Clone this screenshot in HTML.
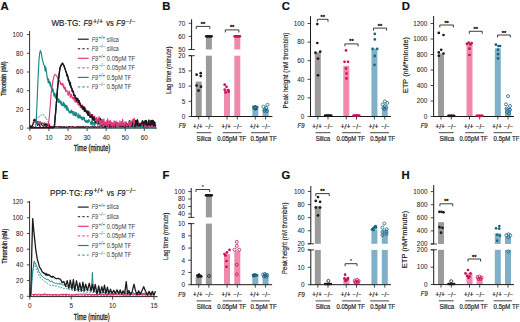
<!DOCTYPE html>
<html><head><meta charset="utf-8"><style>
html,body{margin:0;padding:0;background:#fff;width:520px;height:322px;overflow:hidden}
svg{display:block}
text{font-family:"Liberation Sans", sans-serif}
</style></head><body>
<svg width="520" height="322" viewBox="0 0 520 322" font-family='"Liberation Sans", sans-serif'><text x="0.60" y="9.90" font-size="11.3" fill="#111" stroke="#111" stroke-width="0.2" font-weight="bold">A</text>
<text x="162.20" y="10.10" font-size="11.3" fill="#111" stroke="#111" stroke-width="0.2" font-weight="bold">B</text>
<text x="281.80" y="10.10" font-size="11.3" fill="#111" stroke="#111" stroke-width="0.2" font-weight="bold">C</text>
<text x="401.80" y="10.30" font-size="11.3" fill="#111" stroke="#111" stroke-width="0.2" font-weight="bold">D</text>
<text x="1.90" y="178.90" font-size="11.3" fill="#111" stroke="#111" stroke-width="0.2" textLength="6.3" lengthAdjust="spacingAndGlyphs" font-weight="bold">E</text>
<text x="162.60" y="178.80" font-size="11.3" fill="#111" stroke="#111" stroke-width="0.2" font-weight="bold">F</text>
<text x="281.60" y="179.40" font-size="11.3" fill="#111" stroke="#111" stroke-width="0.2" font-weight="bold">G</text>
<text x="401.60" y="179.40" font-size="11.3" fill="#111" stroke="#111" stroke-width="0.2" font-weight="bold">H</text>
<line x1="29.60" y1="31.00" x2="29.60" y2="128.50" stroke="#1a1a1a" stroke-width="0.9"/>
<line x1="29.20" y1="128.10" x2="157.00" y2="128.10" stroke="#1a1a1a" stroke-width="0.9"/>
<line x1="26.90" y1="128.10" x2="29.60" y2="128.10" stroke="#1a1a1a" stroke-width="0.8"/>
<text x="23.20" y="130.40" font-size="6.4" fill="#2a2a2a" stroke="#2a2a2a" stroke-width="0.06" text-anchor="end">0</text>
<line x1="26.90" y1="109.40" x2="29.60" y2="109.40" stroke="#1a1a1a" stroke-width="0.8"/>
<text x="23.20" y="111.70" font-size="6.4" fill="#2a2a2a" stroke="#2a2a2a" stroke-width="0.06" text-anchor="end">20</text>
<line x1="26.90" y1="90.70" x2="29.60" y2="90.70" stroke="#1a1a1a" stroke-width="0.8"/>
<text x="23.20" y="93.00" font-size="6.4" fill="#2a2a2a" stroke="#2a2a2a" stroke-width="0.06" text-anchor="end">40</text>
<line x1="26.90" y1="72.00" x2="29.60" y2="72.00" stroke="#1a1a1a" stroke-width="0.8"/>
<text x="23.20" y="74.30" font-size="6.4" fill="#2a2a2a" stroke="#2a2a2a" stroke-width="0.06" text-anchor="end">60</text>
<line x1="26.90" y1="53.30" x2="29.60" y2="53.30" stroke="#1a1a1a" stroke-width="0.8"/>
<text x="23.20" y="55.60" font-size="6.4" fill="#2a2a2a" stroke="#2a2a2a" stroke-width="0.06" text-anchor="end">80</text>
<line x1="26.90" y1="34.60" x2="29.60" y2="34.60" stroke="#1a1a1a" stroke-width="0.8"/>
<text x="23.20" y="36.90" font-size="6.4" fill="#2a2a2a" stroke="#2a2a2a" stroke-width="0.06" text-anchor="end">100</text>
<line x1="29.90" y1="128.10" x2="29.90" y2="131.10" stroke="#1a1a1a" stroke-width="0.8"/>
<text x="29.90" y="139.80" font-size="6.4" fill="#2a2a2a" stroke="#2a2a2a" stroke-width="0.06" text-anchor="middle">0</text>
<line x1="48.97" y1="128.10" x2="48.97" y2="131.10" stroke="#1a1a1a" stroke-width="0.8"/>
<text x="48.97" y="139.80" font-size="6.4" fill="#2a2a2a" stroke="#2a2a2a" stroke-width="0.06" text-anchor="middle">10</text>
<line x1="68.04" y1="128.10" x2="68.04" y2="131.10" stroke="#1a1a1a" stroke-width="0.8"/>
<text x="68.04" y="139.80" font-size="6.4" fill="#2a2a2a" stroke="#2a2a2a" stroke-width="0.06" text-anchor="middle">20</text>
<line x1="87.11" y1="128.10" x2="87.11" y2="131.10" stroke="#1a1a1a" stroke-width="0.8"/>
<text x="87.11" y="139.80" font-size="6.4" fill="#2a2a2a" stroke="#2a2a2a" stroke-width="0.06" text-anchor="middle">30</text>
<line x1="106.18" y1="128.10" x2="106.18" y2="131.10" stroke="#1a1a1a" stroke-width="0.8"/>
<text x="106.18" y="139.80" font-size="6.4" fill="#2a2a2a" stroke="#2a2a2a" stroke-width="0.06" text-anchor="middle">40</text>
<line x1="125.25" y1="128.10" x2="125.25" y2="131.10" stroke="#1a1a1a" stroke-width="0.8"/>
<text x="125.25" y="139.80" font-size="6.4" fill="#2a2a2a" stroke="#2a2a2a" stroke-width="0.06" text-anchor="middle">50</text>
<line x1="144.32" y1="128.10" x2="144.32" y2="131.10" stroke="#1a1a1a" stroke-width="0.8"/>
<text x="144.32" y="139.80" font-size="6.4" fill="#2a2a2a" stroke="#2a2a2a" stroke-width="0.06" text-anchor="middle">60</text>
<text x="73.80" y="151.10" font-size="8.2" fill="#1c1c1c" stroke="#1c1c1c" stroke-width="0.3" textLength="36.4" lengthAdjust="spacingAndGlyphs">Time (minute)</text>
<text x="6.50" y="95.70" font-size="7.4" fill="#1c1c1c" stroke="#1c1c1c" stroke-width="0.3" textLength="34.1" lengthAdjust="spacingAndGlyphs" transform="rotate(-90 6.50 95.70)">Thrombin (nM)</text>
<text x="51.40" y="26.10" font-size="8.8" fill="#222" stroke="#222" stroke-width="0.18" textLength="29.199999999999996" lengthAdjust="spacingAndGlyphs">WB·TG:</text>
<text x="83.40" y="26.10" font-size="8.8" fill="#222" stroke="#222" stroke-width="0.18" textLength="8.799999999999997" lengthAdjust="spacingAndGlyphs" font-style="italic">F9</text>
<text x="92.90" y="23.60" font-size="6.6" fill="#222" stroke="#222" stroke-width="0.18" textLength="10.199999999999989" lengthAdjust="spacingAndGlyphs">+/+</text>
<text x="106.20" y="26.10" font-size="8.8" fill="#222" stroke="#222" stroke-width="0.18" textLength="7.3999999999999915" lengthAdjust="spacingAndGlyphs">vs</text>
<text x="116.30" y="26.10" font-size="8.8" fill="#222" stroke="#222" stroke-width="0.18" textLength="8.799999999999997" lengthAdjust="spacingAndGlyphs" font-style="italic">F9</text>
<text x="125.40" y="23.60" font-size="6.6" fill="#222" stroke="#222" stroke-width="0.18" textLength="10.099999999999994" lengthAdjust="spacingAndGlyphs">−/−</text>
<line x1="77.80" y1="39.20" x2="88.70" y2="39.20" stroke="#1a1a1a" stroke-width="1.2"/>
<text x="91.80" y="41.50" font-size="6.4" fill="#3a3a3a" stroke="#3a3a3a" stroke-width="0.02" textLength="6.3" lengthAdjust="spacingAndGlyphs" font-style="italic">F9</text>
<text x="98.60" y="38.70" font-size="5.2" fill="#3a3a3a" textLength="6.7" lengthAdjust="spacingAndGlyphs">+/+</text>
<text x="106.80" y="41.50" font-size="6.4" fill="#3a3a3a" stroke="#3a3a3a" stroke-width="0.02" textLength="12.1" lengthAdjust="spacingAndGlyphs">silica</text>
<line x1="77.80" y1="48.75" x2="88.70" y2="48.75" stroke="#1a1a1a" stroke-width="1.0" stroke-dasharray="2.4 2.1"/>
<text x="91.80" y="51.05" font-size="6.4" fill="#3a3a3a" stroke="#3a3a3a" stroke-width="0.02" textLength="6.3" lengthAdjust="spacingAndGlyphs" font-style="italic">F9</text>
<text x="98.60" y="48.25" font-size="5.2" fill="#3a3a3a" textLength="6.7" lengthAdjust="spacingAndGlyphs">−/−</text>
<text x="106.80" y="51.05" font-size="6.4" fill="#3a3a3a" stroke="#3a3a3a" stroke-width="0.02" textLength="12.1" lengthAdjust="spacingAndGlyphs">silica</text>
<line x1="77.80" y1="58.30" x2="88.70" y2="58.30" stroke="#e2387e" stroke-width="1.2"/>
<text x="91.80" y="60.60" font-size="6.4" fill="#3a3a3a" stroke="#3a3a3a" stroke-width="0.02" textLength="6.3" lengthAdjust="spacingAndGlyphs" font-style="italic">F9</text>
<text x="98.60" y="57.80" font-size="5.2" fill="#3a3a3a" textLength="6.7" lengthAdjust="spacingAndGlyphs">+/+</text>
<text x="106.80" y="60.60" font-size="6.4" fill="#3a3a3a" stroke="#3a3a3a" stroke-width="0.02" textLength="28.4" lengthAdjust="spacingAndGlyphs">0.05pM TF</text>
<line x1="77.80" y1="67.85" x2="88.70" y2="67.85" stroke="#e2387e" stroke-width="1.0" stroke-dasharray="2.4 2.1"/>
<text x="91.80" y="70.15" font-size="6.4" fill="#3a3a3a" stroke="#3a3a3a" stroke-width="0.02" textLength="6.3" lengthAdjust="spacingAndGlyphs" font-style="italic">F9</text>
<text x="98.60" y="67.35" font-size="5.2" fill="#3a3a3a" textLength="6.7" lengthAdjust="spacingAndGlyphs">−/−</text>
<text x="106.80" y="70.15" font-size="6.4" fill="#3a3a3a" stroke="#3a3a3a" stroke-width="0.02" textLength="28.4" lengthAdjust="spacingAndGlyphs">0.05pM TF</text>
<line x1="77.80" y1="77.40" x2="88.70" y2="77.40" stroke="#178888" stroke-width="1.2"/>
<text x="91.80" y="79.70" font-size="6.4" fill="#3a3a3a" stroke="#3a3a3a" stroke-width="0.02" textLength="6.3" lengthAdjust="spacingAndGlyphs" font-style="italic">F9</text>
<text x="98.60" y="76.90" font-size="5.2" fill="#3a3a3a" textLength="6.7" lengthAdjust="spacingAndGlyphs">+/+</text>
<text x="106.80" y="79.70" font-size="6.4" fill="#3a3a3a" stroke="#3a3a3a" stroke-width="0.02" textLength="24.5" lengthAdjust="spacingAndGlyphs">0.5pM TF</text>
<line x1="77.80" y1="86.95" x2="88.70" y2="86.95" stroke="#178888" stroke-width="1.0" stroke-dasharray="2.4 2.1"/>
<text x="91.80" y="89.25" font-size="6.4" fill="#3a3a3a" stroke="#3a3a3a" stroke-width="0.02" textLength="6.3" lengthAdjust="spacingAndGlyphs" font-style="italic">F9</text>
<text x="98.60" y="86.45" font-size="5.2" fill="#3a3a3a" textLength="6.7" lengthAdjust="spacingAndGlyphs">−/−</text>
<text x="106.80" y="89.25" font-size="6.4" fill="#3a3a3a" stroke="#3a3a3a" stroke-width="0.02" textLength="24.5" lengthAdjust="spacingAndGlyphs">0.5pM TF</text>
<path d="M29.90 128.13 L30.47 127.53 L31.04 127.48 L31.62 127.51 L32.19 127.65 L32.76 127.00 L33.33 126.88 L33.90 123.88 L34.48 120.62 L35.05 120.17 L35.62 119.68 L36.00 118.87 L36.19 118.53 L36.77 118.58 L37.34 117.47 L37.91 117.56 L38.48 117.13 L39.05 116.89 L39.63 115.57 L40.20 115.39 L40.39 115.13 L40.77 115.15 L41.34 115.36 L41.91 114.75 L42.49 114.26 L43.06 115.03 L43.63 114.65 L44.20 115.60 L44.77 116.61 L45.35 116.79 L45.73 117.98 L45.92 117.56 L46.49 119.00 L47.06 119.91 L47.44 120.77 L47.64 120.93 L48.21 122.08 L48.78 123.10 L48.97 122.62 L49.35 124.26 L49.92 125.33 L50.50 127.44 L51.07 126.93 L51.64 127.20 L51.83 127.39 L52.21 127.39 L52.78 127.56 L53.36 127.42 L53.93 127.99 L54.50 127.65 L55.07 127.33 L55.64 127.91 L56.22 127.24 L56.79 127.27 L57.36 127.72 L57.93 127.76 L58.50 127.68 L59.08 127.74 L59.65 127.17 L60.22 127.74 L60.79 128.07 L61.37 128.01 L61.94 127.43 L62.51 127.17 L63.08 127.64 L63.65 127.64 L64.23 127.59 L64.80 127.40 L65.37 127.89 L65.94 127.53 L66.51 127.58 L67.09 127.52 L67.66 127.93 L68.23 127.94 L68.80 127.77 L69.37 127.23 L69.95 127.78 L70.52 127.54 L71.09 127.81 L71.66 128.00 L72.24 128.04 L72.81 127.34 L73.38 127.37 L73.95 127.75 L74.52 127.46 L75.10 127.47 L75.67 127.26 L76.24 127.20 L76.81 127.72 L77.38 127.18 L77.96 127.20 L78.53 127.55 L79.10 127.27 L79.67 127.64 L80.24 127.75 L80.82 127.87 L81.39 127.28 L81.96 127.95 L82.53 128.04 L83.11 127.35 L83.68 127.38 L84.25 127.65 L84.82 127.32 L85.39 128.05 L85.97 127.86 L86.54 127.83 L87.11 127.71 L87.68 127.94 L88.25 128.04 L88.83 127.78 L89.40 127.26 L89.97 127.18 L90.54 127.40 L91.11 127.65 L91.69 127.86 L92.26 127.20 L92.83 127.61 L93.40 127.42 L93.98 128.07 L94.55 127.90 L95.12 127.32 L95.69 127.36 L96.26 127.28 L96.84 127.54 L97.41 127.70 L97.98 127.56 L98.55 127.31 L99.12 127.81 L99.70 127.60 L100.27 127.84 L100.84 127.38 L101.41 128.09 L101.98 127.46 L102.56 127.21 L103.13 128.08 L103.70 127.54 L104.27 127.50 L104.85 127.30 L105.42 127.55 L105.99 127.86 L106.56 127.72 L107.13 127.20 L107.71 127.25 L108.28 127.98 L108.85 128.01 L109.42 128.01 L109.99 128.08 L110.57 127.68 L111.14 127.97 L111.71 127.29 L112.28 127.49 L112.85 127.98 L113.43 127.60 L114.00 127.80 L114.57 127.64 L115.14 127.89 L115.72 127.94 L116.29 127.93 L116.86 127.75 L117.43 127.44 L118.00 127.59 L118.58 128.06 L119.15 127.44 L119.72 127.28 L120.29 127.38 L120.86 127.36 L121.44 128.09 L122.01 127.67 L122.58 128.04 L123.15 127.39 L123.72 127.94 L124.30 127.43 L124.87 127.86 L125.44 127.45 L126.01 127.81 L126.58 128.06 L127.16 127.74 L127.73 127.81 L128.30 127.26 L128.87 127.82 L129.45 127.63 L130.02 127.59 L130.59 127.21 L131.16 128.01 L131.73 127.54 L132.31 127.62 L132.88 127.41 L133.45 127.20 L134.02 127.81 L134.59 127.45 L135.17 127.61 L135.74 127.58 L136.31 128.04 L136.88 127.34 L137.45 127.19 L138.03 127.77 L138.60 127.80 L139.17 127.17 L139.74 128.00 L140.32 128.03 L140.89 128.03 L141.46 127.34 L142.03 127.39 L142.60 127.68 L143.18 127.52 L143.75 128.08 L144.32 127.50 L144.89 127.69 L145.46 127.62 L146.04 127.74 L146.61 127.72 L147.18 127.89 L147.75 128.05 L148.32 127.69 L148.90 127.87 L149.47 127.44 L150.04 127.34 L150.61 127.42 L151.19 127.67 L151.76 127.88 L152.33 127.74 L152.90 127.64 L153.47 127.51 L154.05 127.20 L154.62 128.02 L155.19 127.65 L155.76 127.64" fill="none" stroke="#178888" stroke-width="0.8" stroke-linejoin="round" stroke-dasharray="2 1.2" opacity="1"/>
<path d="M29.90 126.11 L30.19 127.82 L30.47 127.82 L30.76 125.40 L31.04 127.82 L31.33 127.82 L31.62 126.15 L31.90 127.11 L32.19 124.90 L32.38 127.23 L32.47 124.12 L32.76 125.35 L33.05 123.12 L33.33 120.72 L33.52 120.86 L33.62 119.85 L33.90 120.31 L34.19 122.43 L34.48 118.96 L34.67 119.82 L34.76 120.96 L35.05 121.71 L35.33 119.55 L35.62 120.84 L35.91 119.82 L36.00 120.53 L36.19 120.01 L36.48 121.75 L36.77 121.51 L37.05 122.10 L37.34 123.69 L37.53 121.25 L37.62 123.61 L37.91 121.72 L38.20 120.93 L38.48 121.93 L38.77 123.69 L39.05 120.99 L39.34 121.44 L39.44 123.20 L39.63 123.90 L39.91 122.37 L40.20 124.52 L40.48 121.46 L40.77 123.31 L41.06 123.55 L41.34 124.23 L41.63 123.15 L41.91 122.05 L42.20 124.19 L42.49 123.80 L42.77 122.88 L43.06 123.81 L43.25 122.60 L43.34 122.89 L43.63 123.58 L43.92 122.96 L44.20 123.79 L44.49 125.71 L44.77 122.60 L45.06 125.27 L45.16 125.08 L45.35 125.14 L45.63 123.10 L45.92 122.95 L46.20 124.53 L46.49 124.87 L46.78 125.94 L47.06 122.88 L47.35 125.87 L47.64 124.75 L47.92 125.77 L48.21 126.12 L48.49 126.30 L48.78 127.20 L48.97 127.82 L49.07 126.13 L49.35 125.27 L49.64 125.94 L49.92 127.72 L50.21 125.99 L50.50 127.82 L50.78 127.27 L50.88 126.43 L51.07 126.27 L51.35 127.04 L51.64 126.39 L51.93 126.98 L52.21 126.94 L52.50 126.84 L52.78 126.15 L53.07 126.57 L53.36 127.02 L53.64 126.60 L53.93 126.74 L54.21 127.22 L54.50 126.50 L54.79 126.44 L55.07 126.80 L55.36 126.23 L55.64 127.79 L55.93 126.98 L56.22 126.75 L56.50 127.25 L56.79 127.53 L57.07 126.65 L57.36 127.09 L57.65 127.37 L57.93 127.75 L58.22 126.19 L58.50 127.23 L58.79 127.62 L59.08 127.46 L59.36 127.39 L59.65 126.36 L59.94 127.52 L60.22 127.35 L60.51 127.66 L60.79 127.03 L61.08 127.47 L61.37 127.24 L61.65 126.58 L61.94 126.26 L62.22 126.42 L62.51 127.76 L62.80 127.18 L63.08 126.39 L63.37 127.76 L63.65 127.48 L63.94 126.99 L64.23 127.18 L64.51 126.56 L64.80 126.61 L65.08 127.04 L65.37 127.40 L65.66 127.43 L65.94 127.37 L66.23 127.71 L66.51 126.70 L66.80 127.55 L67.09 126.32 L67.37 126.73 L67.66 127.72 L67.94 126.98 L68.23 126.80 L68.52 127.75 L68.80 127.00 L69.09 127.77 L69.37 126.53 L69.66 127.81 L69.95 126.76 L70.23 126.16 L70.52 126.40 L70.81 127.43 L71.09 126.92 L71.38 127.58 L71.66 127.24 L71.95 126.37 L72.24 126.44 L72.52 127.80 L72.81 127.18 L73.09 126.74 L73.38 127.52 L73.67 126.47 L73.95 126.32 L74.24 126.89 L74.52 127.21 L74.81 126.39 L75.10 126.96 L75.38 127.50 L75.67 127.35 L75.95 127.55 L76.24 126.41 L76.53 126.96 L76.81 126.65 L77.10 126.44 L77.38 126.18 L77.67 127.50 L77.96 127.14 L78.24 126.35 L78.53 126.54 L78.81 127.17 L79.10 126.72 L79.39 127.49 L79.67 127.55 L79.96 127.73 L80.24 127.18 L80.53 127.42 L80.82 126.95 L81.10 126.19 L81.39 127.56 L81.68 126.88 L81.96 126.36 L82.25 126.81 L82.53 126.93 L82.82 126.53 L83.11 127.78 L83.39 126.22 L83.68 126.66 L83.96 126.46 L84.25 126.43 L84.54 127.65 L84.82 127.71 L85.11 127.52 L85.39 126.97 L85.68 126.24 L85.97 126.29 L86.25 127.13 L86.54 126.77 L86.82 126.57 L87.11 127.26 L87.40 126.19 L87.68 126.23 L87.97 126.60 L88.25 126.30 L88.54 126.47 L88.83 126.72 L89.11 127.28 L89.40 127.35 L89.68 127.42 L89.97 127.72 L90.26 126.26 L90.54 127.32 L90.83 127.78 L91.11 127.29 L91.40 127.65 L91.69 127.07 L91.97 127.26 L92.26 127.52 L92.54 127.02 L92.83 127.12 L93.12 127.22 L93.40 126.45 L93.69 127.30 L93.98 126.91 L94.26 126.34 L94.55 126.21 L94.83 127.19 L95.12 127.75 L95.41 126.22 L95.69 126.95 L95.98 127.45 L96.26 127.60 L96.55 127.42 L96.84 127.30 L97.12 127.59 L97.41 127.74 L97.69 126.15 L97.98 126.44 L98.27 127.63 L98.55 127.01 L98.84 126.47 L99.12 126.97 L99.41 127.70 L99.70 127.25 L99.98 127.18 L100.27 126.28 L100.55 126.84 L100.84 127.05 L101.13 126.76 L101.41 127.74 L101.70 126.66 L101.98 126.46 L102.27 126.69 L102.56 127.21 L102.84 127.34 L103.13 127.80 L103.41 127.68 L103.70 127.56 L103.99 127.06 L104.27 126.51 L104.56 127.45 L104.85 127.02 L105.13 126.75 L105.42 126.76 L105.70 127.78 L105.99 126.27 L106.28 126.83 L106.56 127.31 L106.85 127.42 L107.13 126.66 L107.42 126.25 L107.71 127.25 L107.99 127.15 L108.28 126.88 L108.56 127.53 L108.85 127.14 L109.14 126.28 L109.42 126.88 L109.71 126.43 L109.99 127.38 L110.28 126.36 L110.57 126.50 L110.85 127.44 L111.14 126.93 L111.42 126.67 L111.71 126.86 L112.00 126.81 L112.28 127.42 L112.57 126.89 L112.85 127.22 L113.14 126.48 L113.43 127.19 L113.71 126.17 L114.00 126.84 L114.28 127.44 L114.57 127.12 L114.86 127.60 L115.14 126.58 L115.43 127.74 L115.72 126.80 L116.00 127.30 L116.29 126.51 L116.57 127.61 L116.86 126.67 L117.15 126.62 L117.43 127.43 L117.72 127.60 L118.00 127.19 L118.29 126.73 L118.58 127.38 L118.86 127.80 L119.15 127.08 L119.43 126.46 L119.72 127.55 L120.01 126.24 L120.29 126.96 L120.58 127.55 L120.86 127.65 L121.15 127.20 L121.44 127.02 L121.72 127.52 L122.01 127.68 L122.29 126.98 L122.58 127.39 L122.87 127.07 L123.15 127.06 L123.44 126.65 L123.72 126.85 L124.01 127.44 L124.30 127.52 L124.58 126.37 L124.87 127.73 L125.15 127.61 L125.44 127.70 L125.73 126.43 L126.01 126.91 L126.30 126.26 L126.58 126.77 L126.87 127.26 L127.16 127.10 L127.44 126.59 L127.73 127.43 L128.02 126.47 L128.30 127.13 L128.59 127.75 L128.87 127.24 L129.16 126.88 L129.45 127.57 L129.73 126.30 L130.02 126.26 L130.30 126.96 L130.59 126.30 L130.88 126.66 L131.16 126.91 L131.45 127.55 L131.73 126.22 L132.02 126.27 L132.31 127.06 L132.59 127.17 L132.88 127.70 L133.16 126.78 L133.45 126.38 L133.74 127.17 L134.02 127.33 L134.31 126.79 L134.59 126.48 L134.88 127.53 L135.17 127.34 L135.45 126.74 L135.74 127.75 L136.02 126.44 L136.31 127.29 L136.60 126.42 L136.88 127.05 L137.17 127.54 L137.45 127.79 L137.74 127.63 L138.03 127.38 L138.31 126.54 L138.60 126.48 L138.89 126.76 L139.17 127.30 L139.46 126.70 L139.74 126.59 L140.03 127.20 L140.32 127.68 L140.60 127.03 L140.89 127.45 L141.17 127.50 L141.46 127.16 L141.75 127.69 L142.03 126.31 L142.32 127.35 L142.60 126.31 L142.89 126.58 L143.18 127.80 L143.46 126.31 L143.75 126.46 L144.03 126.94 L144.32 126.33 L144.61 127.01 L144.89 127.78 L145.18 127.57 L145.46 127.30 L145.75 126.38 L146.04 126.42 L146.32 127.62 L146.61 127.23 L146.89 127.63 L147.18 127.44 L147.47 127.23 L147.75 127.12 L148.04 127.57 L148.32 126.71 L148.61 127.41 L148.90 126.32 L149.18 127.01 L149.47 127.10 L149.75 126.53 L150.04 127.24 L150.33 127.39 L150.61 127.61 L150.90 127.32 L151.19 127.42 L151.47 126.58 L151.76 127.22 L152.04 126.63 L152.33 127.36 L152.62 127.70 L152.90 127.31 L153.19 127.16 L153.47 126.29 L153.76 127.48 L154.05 127.46 L154.33 127.56 L154.62 127.39 L154.90 126.20 L155.19 126.25 L155.48 127.44 L155.76 127.74" fill="none" stroke="#c0306a" stroke-width="1.0" stroke-linejoin="round" stroke-dasharray="3 0.8" opacity="1"/>
<path d="M29.90 126.23 L30.19 125.85 L30.47 125.77 L30.76 127.82 L31.04 126.31 L31.33 126.65 L31.62 125.96 L31.90 127.16 L32.19 126.64 L32.38 125.50 L32.47 125.95 L32.76 123.90 L33.05 124.35 L33.33 122.95 L33.52 119.83 L33.62 120.84 L33.90 120.26 L34.19 119.20 L34.48 120.37 L34.67 121.34 L34.76 118.83 L35.05 120.15 L35.33 120.50 L35.62 121.24 L35.91 120.53 L36.00 123.00 L36.19 121.75 L36.48 123.57 L36.77 123.16 L37.05 123.18 L37.34 124.82 L37.53 125.91 L37.62 124.50 L37.91 123.73 L38.20 124.35 L38.48 125.02 L38.77 124.44 L39.05 126.30 L39.34 126.45 L39.44 125.96 L39.63 124.02 L39.91 126.20 L40.20 126.36 L40.48 126.28 L40.77 126.36 L41.06 125.34 L41.34 124.09 L41.63 123.37 L41.91 125.41 L42.20 125.48 L42.49 125.99 L42.77 126.14 L43.06 124.58 L43.25 125.58 L43.34 126.64 L43.63 127.14 L43.92 124.54 L44.20 124.75 L44.49 124.23 L44.77 126.37 L45.06 125.15 L45.16 123.73 L45.35 125.01 L45.63 123.78 L45.92 126.79 L46.20 123.86 L46.49 127.39 L46.78 126.14 L47.06 127.70 L47.35 124.85 L47.64 125.41 L47.92 124.43 L48.02 125.09 L48.21 124.58 L48.49 126.16 L48.78 124.52 L49.07 125.46 L49.35 127.01 L49.64 124.71 L49.92 126.99 L50.21 127.72 L50.50 127.82 L50.78 126.79 L51.07 127.16 L51.35 126.10 L51.64 126.12 L51.93 127.27 L52.21 127.48 L52.50 126.89 L52.78 127.47 L53.07 126.91 L53.36 126.51 L53.64 127.35 L53.93 127.10 L54.21 126.38 L54.50 127.06 L54.79 127.22 L55.07 126.40 L55.36 126.51 L55.64 126.39 L55.93 126.70 L56.22 127.11 L56.50 126.70 L56.79 126.49 L57.07 126.78 L57.36 127.38 L57.65 127.29 L57.93 127.12 L58.22 126.58 L58.50 126.90 L58.79 126.91 L59.08 126.50 L59.36 127.58 L59.65 126.79 L59.94 127.24 L60.22 126.90 L60.51 126.49 L60.79 127.37 L61.08 126.32 L61.37 127.62 L61.65 126.90 L61.94 126.93 L62.22 127.39 L62.51 126.90 L62.80 127.04 L63.08 127.07 L63.37 126.67 L63.65 127.74 L63.94 127.18 L64.23 126.57 L64.51 127.54 L64.80 126.45 L65.08 127.44 L65.37 126.73 L65.66 127.49 L65.94 127.08 L66.23 127.12 L66.51 127.63 L66.80 126.70 L67.09 127.03 L67.37 126.72 L67.66 126.95 L67.94 126.92 L68.23 126.97 L68.52 127.31 L68.80 126.41 L69.09 127.63 L69.37 126.44 L69.66 126.46 L69.95 127.01 L70.23 126.60 L70.52 126.75 L70.81 126.85 L71.09 127.32 L71.38 127.28 L71.66 127.24 L71.95 127.31 L72.24 126.33 L72.52 127.25 L72.81 127.18 L73.09 127.14 L73.38 126.54 L73.67 127.05 L73.95 126.94 L74.24 127.38 L74.52 127.35 L74.81 127.63 L75.10 127.44 L75.38 127.37 L75.67 126.49 L75.95 127.02 L76.24 127.60 L76.53 127.08 L76.81 127.59 L77.10 126.92 L77.38 127.11 L77.67 126.49 L77.96 127.38 L78.24 126.50 L78.53 127.40 L78.81 126.30 L79.10 126.83 L79.39 127.71 L79.67 126.57 L79.96 127.36 L80.24 127.23 L80.53 127.56 L80.82 126.52 L81.10 127.64 L81.39 126.67 L81.68 127.19 L81.96 126.76 L82.25 127.34 L82.53 127.66 L82.82 126.41 L83.11 126.80 L83.39 127.53 L83.68 126.32 L83.96 126.42 L84.25 127.51 L84.54 127.76 L84.82 126.87 L85.11 127.58 L85.39 126.69 L85.68 127.08 L85.97 126.73 L86.25 126.93 L86.54 126.63 L86.82 126.56 L87.11 126.89 L87.40 126.90 L87.68 127.30 L87.97 127.59 L88.25 127.65 L88.54 126.51 L88.83 127.48 L89.11 127.15 L89.40 127.32 L89.68 126.87 L89.97 127.00 L90.26 126.51 L90.54 127.14 L90.83 127.25 L91.11 126.82 L91.40 126.68 L91.69 126.41 L91.97 127.33 L92.26 126.47 L92.54 126.33 L92.83 126.33 L93.12 127.61 L93.40 127.23 L93.69 126.64 L93.98 126.56 L94.26 127.74 L94.55 127.21 L94.83 126.72 L95.12 126.67 L95.41 127.00 L95.69 127.49 L95.98 127.20 L96.26 127.72 L96.55 127.33 L96.84 127.17 L97.12 126.58 L97.41 126.93 L97.69 127.19 L97.98 127.44 L98.27 127.34 L98.55 126.81 L98.84 127.14 L99.12 127.55 L99.41 126.58 L99.70 126.95 L99.98 126.36 L100.27 127.01 L100.55 126.88 L100.84 127.17 L101.13 126.90 L101.41 126.44 L101.70 126.35 L101.98 126.83 L102.27 127.17 L102.56 127.72 L102.84 126.56 L103.13 127.23 L103.41 127.25 L103.70 127.73 L103.99 127.77 L104.27 127.24 L104.56 126.36 L104.85 126.71 L105.13 126.76 L105.42 126.82 L105.70 127.41 L105.99 127.57 L106.28 126.92 L106.56 127.73 L106.85 126.94 L107.13 127.06 L107.42 127.01 L107.71 127.64 L107.99 127.73 L108.28 127.12 L108.56 127.61 L108.85 126.87 L109.14 127.37 L109.42 126.90 L109.71 126.71 L109.99 126.92 L110.28 127.04 L110.57 127.54 L110.85 127.31 L111.14 126.37 L111.42 127.43 L111.71 127.41 L112.00 127.10 L112.28 127.02 L112.57 126.65 L112.85 127.39 L113.14 126.40 L113.43 127.80 L113.71 126.65 L114.00 126.98 L114.28 126.49 L114.57 127.61 L114.86 126.81 L115.14 126.42 L115.43 126.84 L115.72 127.67 L116.00 126.46 L116.29 126.39 L116.57 127.68 L116.86 126.60 L117.15 127.72 L117.43 127.72 L117.72 126.65 L118.00 126.77 L118.29 126.41 L118.58 126.90 L118.86 127.08 L119.15 127.44 L119.43 126.99 L119.72 126.36 L120.01 126.88 L120.29 126.54 L120.58 127.55 L120.86 126.75 L121.15 126.76 L121.44 127.74 L121.72 126.62 L122.01 127.59 L122.29 127.53 L122.58 127.76 L122.87 126.86 L123.15 127.64 L123.44 126.39 L123.72 127.82 L124.01 126.64 L124.30 126.72 L124.58 127.00 L124.87 127.00 L125.15 126.66 L125.44 126.91 L125.73 127.65 L126.01 126.67 L126.30 127.33 L126.58 126.99 L126.87 127.09 L127.16 126.51 L127.44 127.24 L127.73 126.59 L128.02 127.74 L128.30 127.38 L128.59 126.86 L128.87 126.95 L129.16 126.62 L129.45 127.55 L129.73 126.66 L130.02 126.68 L130.30 127.65 L130.59 127.66 L130.88 127.00 L131.16 126.41 L131.45 126.95 L131.73 127.23 L132.02 127.11 L132.31 126.66 L132.59 127.09 L132.88 127.07 L133.16 126.98 L133.45 126.48 L133.74 126.68 L134.02 126.62 L134.31 127.48 L134.59 126.98 L134.88 126.64 L135.17 126.80 L135.45 126.45 L135.74 126.51 L136.02 127.69 L136.31 127.12 L136.60 127.34 L136.88 127.57 L137.17 127.13 L137.45 126.41 L137.74 126.73 L138.03 127.73 L138.31 127.51 L138.60 127.33 L138.89 126.56 L139.17 127.20 L139.46 127.64 L139.74 127.06 L140.03 127.51 L140.32 127.82 L140.60 127.00 L140.89 126.40 L141.17 126.73 L141.46 126.79 L141.75 127.66 L142.03 127.05 L142.32 126.94 L142.60 126.75 L142.89 127.22 L143.18 127.81 L143.46 126.50 L143.75 127.49 L144.03 126.79 L144.32 127.20 L144.61 126.73 L144.89 127.39 L145.18 127.76 L145.46 127.25 L145.75 127.18 L146.04 126.71 L146.32 127.29 L146.61 126.90 L146.89 127.33 L147.18 126.80 L147.47 127.64 L147.75 126.58 L148.04 126.49 L148.32 127.82 L148.61 126.62 L148.90 126.74 L149.18 126.86 L149.47 127.74 L149.75 126.81 L150.04 126.75 L150.33 126.97 L150.61 126.46 L150.90 126.49 L151.19 126.96 L151.47 126.52 L151.76 127.69 L152.04 127.46 L152.33 127.11 L152.62 127.13 L152.90 126.48 L153.19 126.96 L153.47 126.98 L153.76 126.98 L154.05 126.50 L154.33 127.31 L154.62 126.80 L154.90 127.01 L155.19 127.31 L155.48 127.41 L155.76 127.68" fill="none" stroke="#1a1a1a" stroke-width="1.0" stroke-linejoin="round" stroke-dasharray="3 0.8" opacity="1"/>
<path d="M29.90 127.82 L30.28 127.75 L30.66 127.57 L31.04 127.69 L31.43 127.63 L31.81 127.55 L32.19 127.66 L32.57 127.49 L32.95 127.40 L33.33 127.29 L33.71 127.50 L34.10 127.35 L34.48 127.36 L34.86 127.01 L35.24 126.98 L35.62 127.15 L36.00 123.81 L36.19 122.32 L36.38 117.94 L36.77 108.98 L37.15 100.05 L37.53 90.83 L37.91 81.53 L38.10 76.67 L38.29 73.11 L38.67 66.18 L39.05 58.91 L39.44 55.75 L39.82 52.36 L40.20 51.21 L40.39 50.49 L40.58 51.23 L40.96 52.19 L41.34 53.30 L41.72 55.60 L42.10 57.72 L42.49 60.13 L42.87 61.45 L43.25 62.74 L43.63 64.12 L44.01 65.45 L44.39 65.43 L44.77 68.28 L45.16 70.89 L45.54 66.67 L45.73 71.06 L45.92 68.05 L46.30 70.65 L46.68 73.05 L47.06 77.31 L47.25 76.67 L47.44 79.18 L47.83 79.89 L48.21 82.55 L48.59 78.82 L48.97 81.82 L49.35 83.53 L49.73 81.53 L50.11 85.66 L50.50 82.89 L50.88 86.96 L51.26 85.55 L51.64 91.92 L52.02 91.41 L52.40 87.80 L52.78 91.47 L53.17 89.13 L53.36 92.57 L53.55 93.49 L53.93 96.07 L54.31 93.20 L54.69 92.86 L55.07 96.53 L55.45 98.20 L55.84 97.28 L56.22 94.06 L56.60 95.87 L56.98 100.24 L57.36 100.04 L57.74 99.11 L58.12 101.82 L58.50 102.42 L58.89 98.52 L59.27 102.47 L59.65 100.64 L60.03 101.66 L60.41 103.49 L60.79 100.79 L61.17 104.57 L61.56 102.05 L61.94 105.38 L62.32 104.05 L62.70 105.57 L63.08 105.63 L63.46 102.13 L63.84 103.43 L64.23 106.54 L64.42 105.66 L64.61 103.76 L64.99 107.81 L65.37 107.19 L65.75 105.10 L66.13 106.63 L66.51 109.91 L66.90 105.56 L67.28 110.06 L67.66 110.20 L68.04 107.89 L68.42 110.59 L68.80 111.15 L69.18 112.68 L69.57 112.97 L69.95 110.82 L70.33 112.94 L70.71 111.50 L70.90 112.86 L71.09 112.54 L71.47 110.17 L71.85 112.76 L72.24 112.50 L72.62 111.23 L73.00 114.84 L73.38 115.17 L73.76 111.60 L74.14 112.25 L74.52 115.26 L74.91 115.75 L75.29 113.22 L75.67 112.43 L76.05 116.28 L76.43 112.77 L76.81 113.30 L77.19 114.85 L77.57 115.93 L77.96 117.66 L78.34 118.17 L78.72 113.89 L79.10 117.58 L79.48 115.52 L79.86 117.88 L80.24 115.38 L80.63 116.68 L81.01 118.33 L81.39 119.10 L81.77 116.73 L82.15 120.02 L82.53 119.48 L82.91 118.13 L83.30 116.97 L83.68 118.30 L84.06 120.07 L84.44 117.32 L84.82 120.84 L85.20 121.91 L85.58 120.95 L85.97 120.35 L86.35 122.32 L86.73 122.00 L87.11 121.33 L87.49 120.62 L87.87 122.83 L88.25 121.99 L88.64 119.76 L89.02 119.51 L89.40 121.12 L89.78 121.12 L90.16 121.76 L90.54 123.89 L90.92 124.51 L91.31 124.73 L91.69 120.93 L92.07 122.01 L92.45 121.01 L92.83 125.31 L93.21 122.76 L93.59 123.59 L93.98 122.65 L94.36 124.61 L94.55 121.71 L94.74 125.79 L95.12 123.81 L95.50 123.06 L95.88 122.43 L96.26 123.22 L96.65 123.44 L97.03 123.13 L97.41 122.68 L97.79 125.20 L98.17 123.84 L98.55 122.99 L98.93 123.19 L99.31 125.23 L99.70 123.70 L100.08 123.47 L100.46 124.80 L100.84 124.65 L101.22 125.76 L101.60 124.98 L101.98 124.94 L102.37 127.27 L102.75 124.96 L103.13 123.53 L103.51 124.09 L103.89 124.81 L104.27 126.33 L104.65 124.93 L105.04 125.66 L105.42 126.33 L105.80 124.72 L106.18 127.82 L106.56 125.20 L106.94 127.82 L107.32 125.89 L107.71 126.43 L108.09 127.52 L108.47 125.57 L108.85 126.45 L109.23 125.99 L109.61 124.73 L109.99 127.56 L110.38 127.82 L110.76 127.43 L111.14 125.87 L111.52 127.82 L111.90 127.82 L112.28 125.01 L112.66 126.07 L113.05 127.01 L113.43 125.16 L113.81 127.55 L114.19 126.16 L114.57 127.82 L114.95 127.21 L115.33 125.67 L115.72 125.25 L116.10 125.39 L116.48 127.46 L116.86 126.64 L117.24 127.75 L117.62 127.82 L118.00 127.00 L118.38 125.58 L118.77 125.53 L119.15 126.11 L119.53 125.11 L119.91 127.82 L120.29 127.82 L120.67 127.21 L121.05 127.82 L121.44 127.82 L121.82 127.37 L122.20 126.48 L122.58 127.04 L122.96 127.78 L123.34 125.60 L123.72 125.00 L124.11 127.22 L124.49 127.82 L124.87 127.82 L125.25 125.46 L125.63 127.82 L126.01 126.15 L126.39 126.73 L126.78 127.82 L127.16 125.81 L127.54 127.82 L127.92 127.82 L128.30 127.23 L128.68 127.82 L129.06 125.66 L129.45 127.82 L129.83 127.82 L130.21 127.82 L130.59 126.51 L130.97 127.27 L131.35 126.51 L131.73 126.41 L132.12 125.77 L132.50 125.14 L132.88 126.29 L133.26 127.82 L133.64 127.17 L134.02 127.82 L134.40 127.82 L134.78 127.18 L135.17 126.17 L135.55 127.82 L135.93 127.82 L136.31 127.72 L136.69 126.25 L137.07 126.99 L137.45 126.60 L137.84 126.01 L138.22 127.53 L138.60 125.87 L138.98 125.39 L139.36 127.82 L139.74 125.28 L140.12 126.16 L140.51 127.82 L140.89 127.29 L141.27 126.57 L141.65 125.39 L142.03 127.62 L142.41 126.82 L142.79 125.52 L143.18 125.87 L143.56 125.25 L143.94 127.26 L144.32 126.48 L144.70 127.82 L145.08 126.19 L145.46 125.79 L145.85 126.53 L146.23 126.21 L146.61 127.82 L146.99 125.46 L147.37 125.12 L147.75 125.14 L148.13 126.98 L148.52 125.92 L148.90 127.82 L149.28 125.42 L149.66 125.65 L150.04 127.77 L150.42 127.82 L150.80 127.39 L151.19 126.93 L151.57 126.03 L151.95 127.20 L152.33 127.82 L152.71 125.86 L153.09 127.82 L153.47 125.90 L153.85 127.82 L154.24 127.82 L154.62 125.96 L155.00 127.82 L155.38 127.82 L155.76 127.10" fill="none" stroke="#178888" stroke-width="1.15" stroke-linejoin="round" opacity="1"/>
<path d="M29.90 127.63 L30.28 127.63 L30.66 127.63 L31.04 127.63 L31.43 127.63 L31.81 127.63 L32.19 127.63 L32.57 127.63 L32.95 127.63 L33.33 127.63 L33.71 127.63 L34.10 127.63 L34.48 127.63 L34.86 127.63 L35.24 127.63 L35.62 127.63 L36.00 127.63 L36.38 127.63 L36.77 127.63 L37.15 127.62 L37.53 127.63 L37.91 127.63 L38.29 127.63 L38.67 127.63 L39.05 127.58 L39.44 127.63 L39.82 127.63 L40.20 127.61 L40.58 127.63 L40.96 127.63 L41.34 127.63 L41.72 127.63 L42.10 127.63 L42.49 127.63 L42.87 127.63 L43.25 127.63 L43.63 127.59 L44.01 127.60 L44.39 127.53 L44.77 127.63 L45.16 127.63 L45.54 127.60 L45.92 127.63 L46.30 127.63 L46.68 127.63 L47.06 127.63 L47.44 127.63 L47.83 127.63 L48.21 127.63 L48.59 127.63 L48.97 127.63 L49.35 127.63 L49.73 127.63 L50.11 127.63 L50.50 127.63 L50.88 127.63 L51.26 127.63 L51.64 127.63 L52.02 127.63 L52.40 127.59 L52.78 127.47 L53.17 127.63 L53.55 127.55 L53.93 127.47 L54.31 126.25 L54.50 125.43 L54.69 122.99 L55.07 118.61 L55.45 114.32 L55.84 110.12 L56.03 107.81 L56.22 105.42 L56.60 100.41 L56.98 95.56 L57.36 90.75 L57.74 86.02 L58.12 82.99 L58.50 79.60 L58.89 76.64 L59.27 73.36 L59.65 70.44 L59.84 68.73 L60.03 68.02 L60.41 67.09 L60.79 65.97 L61.17 64.99 L61.56 64.61 L61.94 63.98 L62.32 63.51 L62.51 63.30 L62.70 63.58 L63.08 64.28 L63.46 64.76 L63.84 65.45 L64.23 66.58 L64.61 67.67 L64.99 68.79 L65.37 69.66 L65.75 70.94 L66.13 71.97 L66.51 72.93 L66.90 75.81 L67.28 74.64 L67.66 76.13 L68.04 77.32 L68.42 80.40 L68.80 79.99 L69.18 81.49 L69.57 83.55 L69.95 85.00 L70.33 82.51 L70.71 86.81 L70.90 86.02 L71.09 87.24 L71.47 88.36 L71.85 88.24 L72.24 91.04 L72.62 90.72 L73.00 92.08 L73.38 91.56 L73.76 95.28 L74.14 95.22 L74.52 95.73 L74.91 95.27 L75.10 97.24 L75.29 97.43 L75.67 98.05 L76.05 97.93 L76.43 99.55 L76.81 100.82 L77.19 99.89 L77.57 98.45 L77.96 99.74 L78.34 102.46 L78.72 100.95 L79.10 100.66 L79.48 103.90 L79.86 102.84 L80.24 104.41 L80.63 105.41 L81.01 105.69 L81.39 106.56 L81.77 105.66 L82.15 106.81 L82.53 108.72 L82.91 107.49 L83.30 109.40 L83.68 106.71 L84.06 107.90 L84.44 111.14 L84.82 107.99 L85.20 111.17 L85.58 110.26 L85.97 110.37 L86.35 111.85 L86.73 112.51 L87.11 112.28 L87.49 114.12 L87.87 111.18 L88.25 115.14 L88.64 112.19 L89.02 115.40 L89.40 115.38 L89.78 115.37 L90.16 117.41 L90.54 117.34 L90.92 116.63 L91.31 116.63 L91.69 114.98 L92.07 114.83 L92.45 119.64 L92.83 117.72 L93.21 119.99 L93.59 117.22 L93.98 119.85 L94.36 117.56 L94.74 119.57 L95.12 121.66 L95.50 122.36 L95.88 121.36 L96.26 118.60 L96.65 122.09 L97.03 120.69 L97.41 121.33 L97.79 121.59 L98.17 119.59 L98.55 123.38 L98.93 119.55 L99.31 120.10 L99.70 118.12 L100.08 121.52 L100.46 118.51 L100.84 122.41 L101.22 121.51 L101.60 121.27 L101.98 119.69 L102.37 125.89 L102.75 125.32 L103.13 124.50 L103.51 125.02 L103.89 125.11 L104.27 124.31 L104.65 125.30 L105.04 127.27 L105.42 124.96 L105.80 126.73 L106.18 124.54 L106.56 126.15 L106.94 124.30 L107.32 125.19 L107.71 123.42 L108.09 125.45 L108.47 123.49 L108.85 126.08 L109.23 126.60 L109.61 124.93 L109.99 124.46 L110.38 126.92 L110.76 123.76 L111.14 123.46 L111.52 126.66 L111.90 125.51 L112.28 125.62 L112.66 123.23 L113.05 123.67 L113.43 126.03 L113.81 126.51 L114.19 125.77 L114.57 122.88 L114.95 127.09 L115.33 126.32 L115.72 124.74 L116.10 123.00 L116.48 124.33 L116.86 123.45 L117.24 125.62 L117.62 123.50 L118.00 125.25 L118.38 123.60 L118.77 123.35 L119.15 125.70 L119.53 126.49 L119.91 124.52 L120.29 126.39 L120.67 125.39 L121.05 126.53 L121.44 124.31 L121.82 126.69 L122.20 124.54 L122.58 126.32 L122.96 125.60 L123.34 123.89 L123.72 124.08 L124.11 126.14 L124.49 127.21 L124.87 126.84 L125.25 125.69 L125.63 125.72 L126.01 122.46 L126.39 125.97 L126.78 124.81 L127.16 123.74 L127.54 124.47 L127.92 126.11 L128.30 126.66 L128.68 125.94 L129.06 122.55 L129.45 120.69 L129.83 120.87 L130.21 124.92 L130.59 124.44 L130.97 126.38 L131.35 126.21 L131.73 126.31 L132.12 123.34 L132.50 121.51 L132.88 125.71 L133.26 121.18 L133.64 125.70 L134.02 120.68 L134.40 119.34 L134.78 122.85 L135.17 126.81 L135.55 120.66 L135.93 124.42 L136.31 123.09 L136.69 120.48 L137.07 125.61 L137.45 119.82 L137.84 121.78 L138.22 125.48 L138.60 126.07 L138.98 125.37 L139.36 126.23 L139.74 123.69 L140.12 124.48 L140.51 125.65 L140.89 123.43 L141.27 124.51 L141.65 122.77 L142.03 123.55 L142.41 120.78 L142.79 121.20 L143.18 122.14 L143.56 126.56 L143.94 124.86 L144.32 122.61 L144.70 122.98 L145.08 120.72 L145.46 124.22 L145.85 124.36 L146.23 120.52 L146.61 125.47 L146.99 124.17 L147.37 125.35 L147.75 124.79 L148.13 121.99 L148.52 125.03 L148.90 120.04 L149.28 125.15 L149.66 124.32 L150.04 125.51 L150.42 124.67 L150.80 120.79 L151.19 124.80 L151.57 120.47 L151.95 124.42 L152.33 124.46 L152.71 120.34 L153.09 120.85 L153.47 126.17 L153.85 121.36 L154.24 125.18 L154.62 122.49 L155.00 125.93 L155.38 125.04 L155.76 126.26" fill="none" stroke="#1a1a1a" stroke-width="1.3" stroke-linejoin="round" opacity="1"/>
<path d="M29.90 127.63 L30.28 127.63 L30.66 127.63 L31.04 127.63 L31.43 127.63 L31.81 127.63 L32.19 127.63 L32.57 127.63 L32.95 127.63 L33.33 127.63 L33.71 127.63 L34.10 127.63 L34.48 127.63 L34.86 127.63 L35.24 127.63 L35.62 127.61 L36.00 127.63 L36.38 127.63 L36.77 127.63 L37.15 127.63 L37.53 127.63 L37.91 127.63 L38.29 127.60 L38.67 127.63 L39.05 127.63 L39.44 127.56 L39.82 127.63 L40.20 127.63 L40.58 127.53 L40.96 127.54 L41.34 127.63 L41.72 127.63 L42.10 127.63 L42.49 127.63 L42.87 127.63 L43.25 127.63 L43.63 127.60 L44.01 127.63 L44.39 127.63 L44.77 127.55 L45.16 127.63 L45.54 127.63 L45.92 127.62 L46.30 127.63 L46.68 127.63 L47.06 127.63 L47.44 127.55 L47.83 127.46 L48.21 125.90 L48.40 125.23 L48.59 123.51 L48.97 119.83 L49.35 116.03 L49.54 114.20 L49.73 112.00 L50.11 107.13 L50.50 102.26 L50.88 97.39 L51.26 92.57 L51.64 89.65 L52.02 86.96 L52.40 84.33 L52.78 81.35 L53.17 79.52 L53.55 77.95 L53.93 76.21 L54.31 75.55 L54.69 75.00 L55.07 74.24 L55.45 74.65 L55.84 75.03 L56.22 75.26 L56.60 75.74 L56.98 76.55 L57.36 77.05 L57.74 79.11 L58.12 77.57 L58.50 81.01 L58.89 80.66 L59.27 81.04 L59.65 80.49 L60.03 81.72 L60.41 84.08 L60.79 82.95 L61.17 84.48 L61.56 84.71 L61.94 84.46 L62.32 83.07 L62.70 85.49 L63.08 84.16 L63.46 87.78 L63.84 85.35 L64.23 88.06 L64.61 89.26 L64.99 87.64 L65.37 87.55 L65.75 91.51 L66.13 91.04 L66.51 90.70 L66.90 90.12 L67.28 92.14 L67.66 92.94 L68.04 94.98 L68.42 95.25 L68.80 92.64 L69.18 91.16 L69.57 91.51 L69.95 94.53 L70.33 97.47 L70.71 96.33 L71.09 94.32 L71.47 94.52 L71.85 95.95 L72.24 98.53 L72.62 97.40 L73.00 98.08 L73.19 98.18 L73.38 97.71 L73.76 100.02 L74.14 96.83 L74.52 97.50 L74.91 101.73 L75.29 101.45 L75.67 98.80 L76.05 102.32 L76.43 99.23 L76.81 101.87 L77.19 101.32 L77.57 101.67 L77.96 104.64 L78.34 104.66 L78.72 105.21 L79.10 103.37 L79.48 104.72 L79.86 104.09 L80.24 107.42 L80.63 103.86 L81.01 106.68 L81.39 108.00 L81.77 107.37 L82.15 104.91 L82.53 107.49 L82.91 107.54 L83.30 106.38 L83.68 106.54 L84.06 107.98 L84.44 110.16 L84.82 109.65 L85.20 108.40 L85.58 109.37 L85.97 110.85 L86.35 112.38 L86.73 112.57 L87.11 110.96 L87.49 112.17 L87.87 115.34 L88.25 112.02 L88.64 111.31 L89.02 112.18 L89.40 111.96 L89.78 112.20 L90.16 114.48 L90.54 113.45 L90.92 115.91 L91.31 117.69 L91.69 116.66 L92.07 117.18 L92.45 114.23 L92.83 115.75 L93.21 116.76 L93.59 116.57 L93.98 119.41 L94.36 117.50 L94.74 116.04 L95.12 119.14 L95.50 120.76 L95.88 119.49 L96.26 120.51 L96.65 117.36 L97.03 122.68 L97.41 123.39 L97.79 121.55 L98.17 118.20 L98.55 117.84 L98.93 119.01 L99.12 116.56 L99.31 121.91 L99.70 125.13 L100.08 120.92 L100.46 125.54 L100.84 121.59 L101.22 120.31 L101.60 121.70 L101.98 120.32 L102.37 122.79 L102.75 125.07 L103.13 126.34 L103.51 120.60 L103.89 118.91 L104.27 123.15 L104.65 124.51 L105.04 125.55 L105.42 122.17 L105.80 122.12 L106.18 124.83 L106.56 125.73 L106.94 120.24 L107.32 124.50 L107.71 118.75 L108.09 124.04 L108.47 126.85 L108.85 124.74 L109.23 120.92 L109.61 121.59 L109.99 123.21 L110.38 120.64 L110.76 125.97 L111.14 121.97 L111.52 122.38 L111.90 125.28 L112.28 126.45 L112.66 122.97 L113.05 125.94 L113.43 123.76 L113.81 123.52 L114.19 120.70 L114.57 126.95 L114.95 122.05 L115.33 122.34 L115.72 123.99 L116.10 121.17 L116.48 125.85 L116.86 125.62 L117.24 126.22 L117.62 122.07 L118.00 126.33 L118.38 125.16 L118.77 123.86 L119.15 123.88 L119.53 126.03 L119.91 120.73 L120.29 124.14 L120.67 125.21 L121.05 126.05 L121.44 121.62 L121.82 124.45 L122.20 125.54 L122.58 119.35 L122.96 120.83 L123.34 125.29 L123.72 125.11 L124.11 126.30 L124.49 126.09 L124.87 121.94 L125.25 124.47 L125.63 121.71 L126.01 122.97 L126.39 125.86 L126.78 125.45 L127.16 125.69 L127.54 125.26 L127.92 124.52 L128.30 125.40 L128.68 122.45 L129.06 123.87 L129.45 121.48 L129.83 126.75 L130.21 121.69 L130.59 122.62 L130.97 126.15 L131.35 122.22 L131.73 121.98 L132.12 120.57 L132.50 120.01 L132.88 119.44 L133.26 119.03 L133.64 125.86 L134.02 121.93 L134.40 118.29 L134.78 121.38 L135.17 123.56 L135.55 122.54 L135.93 125.73 L136.31 122.39 L136.69 125.20 L137.07 125.49 L137.45 125.15 L137.84 126.73 L138.22 127.19 L138.60 126.11 L138.98 123.13 L139.36 126.35 L139.74 123.44 L140.12 125.31 L140.51 123.63 L140.89 124.03 L141.27 122.21 L141.65 122.24 L142.03 124.43 L142.41 124.57 L142.79 122.49 L143.18 124.33 L143.56 124.16 L143.94 127.31 L144.32 126.31 L144.70 126.19 L145.08 123.43 L145.46 122.90 L145.85 125.35 L146.23 126.10 L146.61 125.12 L146.99 124.16 L147.37 124.90 L147.75 121.74 L148.13 125.46 L148.52 126.78 L148.90 126.35 L149.28 123.78 L149.66 126.08 L150.04 126.81 L150.42 125.34 L150.80 122.75 L151.19 125.62 L151.57 124.99 L151.95 125.95 L152.33 126.48 L152.71 125.89 L153.09 127.02 L153.47 126.27 L153.85 124.64 L154.24 124.60 L154.62 126.08 L155.00 124.26 L155.38 123.57 L155.76 122.17" fill="none" stroke="#e2387e" stroke-width="1.15" stroke-linejoin="round" opacity="1"/>
<path d="M29.90 127.63 L30.28 127.63 L30.66 127.63 L31.04 127.63 L31.43 127.63 L31.81 127.63 L32.19 127.63 L32.57 127.63 L32.95 127.63 L33.33 127.63 L33.71 127.63 L34.10 127.63 L34.48 127.63 L34.86 127.63 L35.24 127.63 L35.62 127.63 L36.00 127.63 L36.38 127.63 L36.77 127.63 L37.15 127.62 L37.53 127.63 L37.91 127.63 L38.29 127.63 L38.67 127.63 L39.05 127.58 L39.44 127.63 L39.82 127.63 L40.20 127.61 L40.58 127.63 L40.96 127.63 L41.34 127.63 L41.72 127.63 L42.10 127.63 L42.49 127.63 L42.87 127.63 L43.25 127.63 L43.63 127.59 L44.01 127.60 L44.39 127.53 L44.77 127.63 L45.16 127.63 L45.54 127.60 L45.92 127.63 L46.30 127.63 L46.68 127.63 L47.06 127.63 L47.44 127.63 L47.83 127.63 L48.21 127.63 L48.59 127.63 L48.97 127.63 L49.35 127.63 L49.73 127.63 L50.11 127.63 L50.50 127.63 L50.88 127.63 L51.26 127.63 L51.64 127.63 L52.02 127.63 L52.40 127.59 L52.78 127.47 L53.17 127.63 L53.55 127.55 L53.93 127.47 L54.31 126.25 L54.50 125.43 L54.69 122.99 L55.07 118.61 L55.45 114.32 L55.84 110.12 L56.03 107.81 L56.22 105.42 L56.60 100.41 L56.98 95.56 L57.36 90.75 L57.74 86.02 L58.12 82.99 L58.50 79.60 L58.89 76.64 L59.27 73.36 L59.65 70.44 L59.84 68.73 L60.03 68.02 L60.41 67.09 L60.79 65.97 L61.17 64.99 L61.56 64.61 L61.94 63.98 L62.32 63.51 L62.51 63.30 L62.70 63.58 L63.08 64.28 L63.46 64.76 L63.84 65.45 L64.23 66.58 L64.61 67.67 L64.99 68.79 L65.37 69.66 L65.75 70.94 L66.13 71.97 L66.51 72.93 L66.90 75.81 L67.28 74.64 L67.66 76.13 L68.04 77.32 L68.42 80.40 L68.80 79.99 L69.18 81.49 L69.57 83.55 L69.95 85.00 L70.33 82.51 L70.71 86.81 L70.90 86.02 L71.09 87.24 L71.47 88.36 L71.85 88.24 L72.24 91.04 L72.62 90.72 L73.00 92.08 L73.38 91.56 L73.76 95.28 L74.14 95.22 L74.52 95.73 L74.91 95.27 L75.10 97.24 L75.29 97.43 L75.67 98.05 L76.05 97.93 L76.43 99.55 L76.81 100.82 L77.19 99.89 L77.57 98.45 L77.96 99.74 L78.34 102.46 L78.72 100.95 L79.10 100.66 L79.48 103.90 L79.86 102.84 L80.24 104.41 L80.63 105.41 L81.01 105.69 L81.39 106.56 L81.77 105.66 L82.15 106.81 L82.53 108.72 L82.91 107.49 L83.30 109.40 L83.68 106.71 L84.06 107.90 L84.44 111.14 L84.82 107.99 L85.20 111.17 L85.58 110.26 L85.97 110.37 L86.35 111.85 L86.73 112.51 L87.11 112.28 L87.49 114.12 L87.87 111.18 L88.25 115.14 L88.64 112.19 L89.02 115.40 L89.40 115.38 L89.78 115.37 L90.16 117.41 L90.54 117.34 L90.92 116.63 L91.31 116.63 L91.69 114.98 L92.07 114.83 L92.45 119.64 L92.83 117.72 L93.21 119.99 L93.59 117.22 L93.98 119.85 L94.36 117.56 L94.74 119.57" fill="none" stroke="#1a1a1a" stroke-width="1.3" stroke-linejoin="round" opacity="1"/>
<path d="M135.17 126.81 L135.55 120.66 L135.93 124.42 L136.31 123.09 L136.69 120.48 L137.07 125.61 L137.45 119.82 L137.84 121.78 L138.22 125.48 L138.60 126.07 L138.98 125.37 L139.36 126.23 L139.74 123.69 L140.12 124.48 L140.51 125.65 L140.89 123.43 L141.27 124.51 L141.65 122.77 L142.03 123.55 L142.41 120.78 L142.79 121.20 L143.18 122.14 L143.56 126.56 L143.94 124.86 L144.32 122.61 L144.70 122.98 L145.08 120.72 L145.46 124.22 L145.85 124.36 L146.23 120.52 L146.61 125.47 L146.99 124.17 L147.37 125.35 L147.75 124.79 L148.13 121.99 L148.52 125.03 L148.90 120.04 L149.28 125.15 L149.66 124.32 L150.04 125.51 L150.42 124.67 L150.80 120.79 L151.19 124.80 L151.57 120.47 L151.95 124.42 L152.33 124.46 L152.71 120.34 L153.09 120.85 L153.47 126.17 L153.85 121.36 L154.24 125.18 L154.62 122.49 L155.00 125.93 L155.38 125.04 L155.76 126.26" fill="none" stroke="#1a1a1a" stroke-width="1.1" stroke-linejoin="round" opacity="1"/>
<line x1="29.60" y1="200.90" x2="29.60" y2="297.00" stroke="#1a1a1a" stroke-width="0.9"/>
<line x1="29.20" y1="296.60" x2="157.50" y2="296.60" stroke="#1a1a1a" stroke-width="0.9"/>
<line x1="26.90" y1="296.30" x2="29.60" y2="296.30" stroke="#1a1a1a" stroke-width="0.8"/>
<text x="23.20" y="298.60" font-size="6.4" fill="#2a2a2a" stroke="#2a2a2a" stroke-width="0.06" text-anchor="end">0</text>
<line x1="26.90" y1="280.60" x2="29.60" y2="280.60" stroke="#1a1a1a" stroke-width="0.8"/>
<text x="23.20" y="282.90" font-size="6.4" fill="#2a2a2a" stroke="#2a2a2a" stroke-width="0.06" text-anchor="end">20</text>
<line x1="26.90" y1="264.90" x2="29.60" y2="264.90" stroke="#1a1a1a" stroke-width="0.8"/>
<text x="23.20" y="267.20" font-size="6.4" fill="#2a2a2a" stroke="#2a2a2a" stroke-width="0.06" text-anchor="end">40</text>
<line x1="26.90" y1="249.20" x2="29.60" y2="249.20" stroke="#1a1a1a" stroke-width="0.8"/>
<text x="23.20" y="251.50" font-size="6.4" fill="#2a2a2a" stroke="#2a2a2a" stroke-width="0.06" text-anchor="end">60</text>
<line x1="26.90" y1="233.50" x2="29.60" y2="233.50" stroke="#1a1a1a" stroke-width="0.8"/>
<text x="23.20" y="235.80" font-size="6.4" fill="#2a2a2a" stroke="#2a2a2a" stroke-width="0.06" text-anchor="end">80</text>
<line x1="26.90" y1="217.80" x2="29.60" y2="217.80" stroke="#1a1a1a" stroke-width="0.8"/>
<text x="23.20" y="220.10" font-size="6.4" fill="#2a2a2a" stroke="#2a2a2a" stroke-width="0.06" text-anchor="end">100</text>
<line x1="26.90" y1="202.10" x2="29.60" y2="202.10" stroke="#1a1a1a" stroke-width="0.8"/>
<text x="23.20" y="204.40" font-size="6.4" fill="#2a2a2a" stroke="#2a2a2a" stroke-width="0.06" text-anchor="end">120</text>
<line x1="29.80" y1="296.60" x2="29.80" y2="299.60" stroke="#1a1a1a" stroke-width="0.8"/>
<text x="29.80" y="307.80" font-size="6.4" fill="#2a2a2a" stroke="#2a2a2a" stroke-width="0.06" text-anchor="middle">0</text>
<line x1="71.20" y1="296.60" x2="71.20" y2="299.60" stroke="#1a1a1a" stroke-width="0.8"/>
<text x="71.20" y="307.80" font-size="6.4" fill="#2a2a2a" stroke="#2a2a2a" stroke-width="0.06" text-anchor="middle">5</text>
<line x1="112.60" y1="296.60" x2="112.60" y2="299.60" stroke="#1a1a1a" stroke-width="0.8"/>
<text x="112.60" y="307.80" font-size="6.4" fill="#2a2a2a" stroke="#2a2a2a" stroke-width="0.06" text-anchor="middle">10</text>
<line x1="154.00" y1="296.60" x2="154.00" y2="299.60" stroke="#1a1a1a" stroke-width="0.8"/>
<text x="154.00" y="307.80" font-size="6.4" fill="#2a2a2a" stroke="#2a2a2a" stroke-width="0.06" text-anchor="middle">15</text>
<text x="73.80" y="319.60" font-size="8.2" fill="#1c1c1c" stroke="#1c1c1c" stroke-width="0.3" textLength="36.0" lengthAdjust="spacingAndGlyphs">Time (minute)</text>
<text x="6.60" y="263.50" font-size="7.4" fill="#1c1c1c" stroke="#1c1c1c" stroke-width="0.3" textLength="34.8" lengthAdjust="spacingAndGlyphs" transform="rotate(-90 6.60 263.50)">Thrombin (nM)</text>
<text x="50.10" y="195.50" font-size="8.8" fill="#222" stroke="#222" stroke-width="0.18" textLength="32.4" lengthAdjust="spacingAndGlyphs">PPP·TG:</text>
<text x="84.30" y="195.50" font-size="8.8" fill="#222" stroke="#222" stroke-width="0.18" textLength="8.600000000000009" lengthAdjust="spacingAndGlyphs" font-style="italic">F9</text>
<text x="93.40" y="193.00" font-size="6.6" fill="#222" stroke="#222" stroke-width="0.18" textLength="10.099999999999994" lengthAdjust="spacingAndGlyphs">+/+</text>
<text x="106.80" y="195.50" font-size="8.8" fill="#222" stroke="#222" stroke-width="0.18" textLength="7.299999999999997" lengthAdjust="spacingAndGlyphs">vs</text>
<text x="117.20" y="195.50" font-size="8.8" fill="#222" stroke="#222" stroke-width="0.18" textLength="8.200000000000003" lengthAdjust="spacingAndGlyphs" font-style="italic">F9</text>
<text x="125.80" y="193.00" font-size="6.6" fill="#222" stroke="#222" stroke-width="0.18" textLength="10.600000000000009" lengthAdjust="spacingAndGlyphs">−/−</text>
<line x1="77.80" y1="207.10" x2="88.70" y2="207.10" stroke="#1a1a1a" stroke-width="1.2"/>
<text x="91.80" y="209.40" font-size="6.4" fill="#3a3a3a" stroke="#3a3a3a" stroke-width="0.02" textLength="6.3" lengthAdjust="spacingAndGlyphs" font-style="italic">F9</text>
<text x="98.60" y="206.60" font-size="5.2" fill="#3a3a3a" textLength="6.7" lengthAdjust="spacingAndGlyphs">+/+</text>
<text x="106.80" y="209.40" font-size="6.4" fill="#3a3a3a" stroke="#3a3a3a" stroke-width="0.02" textLength="12.1" lengthAdjust="spacingAndGlyphs">silica</text>
<line x1="77.80" y1="216.70" x2="88.70" y2="216.70" stroke="#1a1a1a" stroke-width="1.0" stroke-dasharray="2.4 2.1"/>
<text x="91.80" y="219.00" font-size="6.4" fill="#3a3a3a" stroke="#3a3a3a" stroke-width="0.02" textLength="6.3" lengthAdjust="spacingAndGlyphs" font-style="italic">F9</text>
<text x="98.60" y="216.20" font-size="5.2" fill="#3a3a3a" textLength="6.7" lengthAdjust="spacingAndGlyphs">−/−</text>
<text x="106.80" y="219.00" font-size="6.4" fill="#3a3a3a" stroke="#3a3a3a" stroke-width="0.02" textLength="12.1" lengthAdjust="spacingAndGlyphs">silica</text>
<line x1="77.80" y1="226.30" x2="88.70" y2="226.30" stroke="#e2387e" stroke-width="1.2"/>
<text x="91.80" y="228.60" font-size="6.4" fill="#3a3a3a" stroke="#3a3a3a" stroke-width="0.02" textLength="6.3" lengthAdjust="spacingAndGlyphs" font-style="italic">F9</text>
<text x="98.60" y="225.80" font-size="5.2" fill="#3a3a3a" textLength="6.7" lengthAdjust="spacingAndGlyphs">+/+</text>
<text x="106.80" y="228.60" font-size="6.4" fill="#3a3a3a" stroke="#3a3a3a" stroke-width="0.02" textLength="28.4" lengthAdjust="spacingAndGlyphs">0.05pM TF</text>
<line x1="77.80" y1="235.90" x2="88.70" y2="235.90" stroke="#e2387e" stroke-width="1.0" stroke-dasharray="2.4 2.1"/>
<text x="91.80" y="238.20" font-size="6.4" fill="#3a3a3a" stroke="#3a3a3a" stroke-width="0.02" textLength="6.3" lengthAdjust="spacingAndGlyphs" font-style="italic">F9</text>
<text x="98.60" y="235.40" font-size="5.2" fill="#3a3a3a" textLength="6.7" lengthAdjust="spacingAndGlyphs">−/−</text>
<text x="106.80" y="238.20" font-size="6.4" fill="#3a3a3a" stroke="#3a3a3a" stroke-width="0.02" textLength="28.4" lengthAdjust="spacingAndGlyphs">0.05pM TF</text>
<line x1="77.80" y1="245.50" x2="88.70" y2="245.50" stroke="#178888" stroke-width="1.2"/>
<text x="91.80" y="247.80" font-size="6.4" fill="#3a3a3a" stroke="#3a3a3a" stroke-width="0.02" textLength="6.3" lengthAdjust="spacingAndGlyphs" font-style="italic">F9</text>
<text x="98.60" y="245.00" font-size="5.2" fill="#3a3a3a" textLength="6.7" lengthAdjust="spacingAndGlyphs">+/+</text>
<text x="106.80" y="247.80" font-size="6.4" fill="#3a3a3a" stroke="#3a3a3a" stroke-width="0.02" textLength="24.5" lengthAdjust="spacingAndGlyphs">0.5pM TF</text>
<line x1="77.80" y1="255.10" x2="88.70" y2="255.10" stroke="#178888" stroke-width="1.0" stroke-dasharray="2.4 2.1"/>
<text x="91.80" y="257.40" font-size="6.4" fill="#3a3a3a" stroke="#3a3a3a" stroke-width="0.02" textLength="6.3" lengthAdjust="spacingAndGlyphs" font-style="italic">F9</text>
<text x="98.60" y="254.60" font-size="5.2" fill="#3a3a3a" textLength="6.7" lengthAdjust="spacingAndGlyphs">−/−</text>
<text x="106.80" y="257.40" font-size="6.4" fill="#3a3a3a" stroke="#3a3a3a" stroke-width="0.02" textLength="24.5" lengthAdjust="spacingAndGlyphs">0.5pM TF</text>
<path d="M29.80 296.15 L32.28 295.84 L34.77 295.85 L37.25 295.87 L39.74 295.93 L42.22 295.89 L44.70 296.30 L47.19 296.00 L49.67 296.18 L52.16 295.96 L54.64 296.10 L57.12 296.04 L59.61 296.04 L62.09 296.03 L64.58 295.91 L67.06 295.84 L69.54 296.14 L72.03 295.92 L74.51 295.88 L77.00 296.12 L79.48 296.24 L81.96 296.07 L84.45 295.94 L86.93 296.05 L89.42 296.21 L91.90 295.97 L94.38 296.15 L96.87 295.88 L99.35 296.22 L101.84 296.02 L104.32 296.12 L106.80 295.84 L109.29 296.23 L111.77 295.89 L114.26 296.10 L116.74 296.12 L119.22 296.20 L121.71 296.07 L124.19 295.86 L126.68 295.83 L129.16 295.86 L131.64 296.01 L134.13 296.19 L136.61 296.06 L139.10 295.99 L141.58 296.16 L144.06 295.84 L146.55 296.26 L149.03 296.19 L151.52 296.20 L154.00 296.22" fill="none" stroke="#1a1a1a" stroke-width="0.8" stroke-linejoin="round" stroke-dasharray="2 1.2" opacity="1"/>
<path d="M29.80 296.03 L31.04 293.88 L32.28 277.17 L32.45 275.11 L33.53 267.92 L34.19 263.33 L34.77 264.81 L36.01 268.01 L37.25 271.32 L37.33 271.73 L38.49 274.25 L39.74 276.58 L40.40 278.01 L40.98 278.42 L42.22 279.46 L43.46 280.23 L44.70 281.43 L45.95 282.45 L46.61 282.33 L47.19 283.13 L48.43 284.37 L49.67 285.14 L50.00 285.08 L50.91 285.91 L52.16 285.39 L53.40 285.49 L54.64 286.20 L55.88 285.87 L57.12 286.03 L58.37 286.83 L59.61 286.93 L60.02 287.81 L60.85 288.08 L62.09 287.05 L63.33 288.30 L64.58 288.68 L65.82 287.98 L67.06 288.46 L68.30 289.62 L69.54 289.61 L70.04 289.83 L70.79 289.90 L72.03 290.47 L73.27 289.92 L74.51 290.42 L75.75 290.48 L77.00 290.96 L78.24 291.25 L79.48 291.55 L79.98 290.44 L80.72 290.70 L81.96 291.10 L83.21 291.86 L84.45 291.96 L85.69 292.14 L86.93 292.00 L88.17 292.51 L89.42 292.34 L90.66 292.58 L91.90 292.74 L93.14 292.22 L94.38 292.64 L95.63 292.76 L96.04 292.97 L96.87 292.75 L98.11 292.46 L99.35 293.20 L100.59 293.59 L101.84 293.07 L103.08 293.27 L104.32 292.76 L105.56 293.77 L106.80 292.75 L108.05 294.02 L109.29 293.34 L110.53 293.53 L111.77 293.77 L112.60 293.00 L113.01 293.27 L114.26 294.06 L115.50 293.61 L116.74 293.47 L117.98 294.31 L119.22 294.26 L120.47 293.55 L121.71 293.39 L122.95 293.79 L124.19 293.87 L125.43 293.78 L126.68 294.15 L127.92 293.30 L129.16 293.20 L130.40 293.90 L131.64 294.58 L132.89 294.07 L134.13 293.52 L135.37 294.21 L136.61 294.55 L137.85 294.46 L139.10 293.74 L140.34 293.89 L141.58 294.38 L142.82 293.93 L144.06 293.76 L145.31 293.49 L146.55 293.70 L147.79 294.29 L149.03 293.78 L150.27 293.64 L151.52 293.74 L152.76 293.93 L154.00 294.18 L155.24 294.31" fill="none" stroke="#178888" stroke-width="0.8" stroke-linejoin="round" stroke-dasharray="2 1.2" opacity="1"/>
<path d="M29.80 296.26 L30.79 294.50 L31.04 294.04 L31.79 282.54 L32.45 272.75 L32.78 270.51 L33.77 263.67 L34.19 260.98 L34.77 262.34 L35.76 264.17 L36.51 265.69 L36.76 266.15 L37.75 268.80 L38.74 271.10 L38.91 271.73 L39.74 272.80 L40.73 274.54 L41.72 276.22 L41.97 276.36 L42.72 276.75 L43.71 277.71 L44.70 278.44 L45.70 278.78 L46.61 279.50 L46.69 279.00 L47.68 279.45 L48.68 279.70 L49.67 281.32 L50.00 281.65 L50.67 281.77 L51.66 280.70 L52.65 282.34 L52.82 282.31 L53.65 282.78 L54.64 283.04 L55.63 283.36 L56.63 283.17 L57.62 283.77 L58.61 283.84 L59.61 283.18 L60.02 284.50 L60.60 283.67 L61.60 284.12 L62.59 284.71 L63.58 285.03 L64.58 285.05 L65.57 285.66 L66.56 286.55 L67.56 286.72 L68.55 287.18 L69.54 287.27 L70.04 286.51 L70.54 287.50 L71.53 288.28 L72.52 287.86 L73.52 287.55 L74.51 288.35 L75.51 288.16 L76.50 289.34 L77.49 289.61 L78.49 288.89 L79.48 290.07 L79.98 289.78 L80.47 289.73 L81.47 290.18 L82.46 290.57 L83.45 290.77 L84.45 289.43 L85.44 289.99 L86.44 289.73 L87.43 290.60 L88.42 290.02 L89.42 290.32 L89.91 290.78 L90.41 290.96 L91.40 291.07 L92.40 272.36 L93.39 291.43 L94.38 290.97 L95.38 291.88 L96.37 290.93 L97.36 291.54 L98.36 291.47 L99.35 291.21 L100.35 291.56 L101.34 292.44 L102.33 292.35 L103.33 292.81 L104.32 292.85 L105.31 291.48 L106.31 292.12 L107.30 291.61 L108.29 291.98 L109.29 292.79 L110.28 291.85 L111.28 292.00 L112.27 292.81 L112.60 293.42 L113.26 293.06 L114.26 293.32 L115.25 293.03 L116.24 293.49 L117.24 292.52 L118.23 292.12 L119.22 293.34 L120.22 292.47 L121.21 292.79 L122.20 292.97 L123.20 292.32 L124.19 293.17 L125.19 292.49 L126.18 293.75 L127.17 292.30 L128.17 293.55 L129.16 293.85 L130.15 292.49 L131.15 292.76 L132.14 292.85 L133.13 292.72 L134.13 293.35 L135.12 293.78 L136.12 293.48 L137.11 292.50 L138.10 292.48 L139.10 293.67 L140.09 293.36 L141.08 293.36 L142.08 292.67 L143.07 294.10 L144.06 292.82 L145.06 293.75 L146.05 293.30 L147.04 293.98 L148.04 294.07 L149.03 292.83 L150.03 293.45 L151.02 292.73 L152.01 292.91 L153.01 293.11 L154.00 294.19 L154.99 293.40" fill="none" stroke="#178888" stroke-width="1.0" stroke-linejoin="round" opacity="1"/>
<path d="M29.80 295.01 L32.28 294.84 L34.77 294.84 L37.25 294.75 L39.74 295.20 L42.22 294.66 L44.70 294.97 L47.19 294.83 L49.67 294.82 L52.16 294.68 L54.64 295.19 L57.12 295.11 L59.61 294.84 L62.09 294.94 L64.58 294.80 L67.06 295.10 L69.54 294.64 L72.03 295.37 L74.51 294.81 L77.00 295.08 L79.48 295.35 L81.96 294.84 L84.45 295.33 L86.93 295.18 L89.42 295.11 L91.90 295.24 L94.38 295.23 L96.87 295.30 L99.35 294.69 L101.84 295.28 L104.32 295.22 L106.80 295.28 L109.29 294.62 L111.77 294.91 L114.26 294.69 L116.74 294.56 L119.22 294.94 L121.71 295.01 L124.19 295.01 L126.68 295.11 L129.16 294.85 L131.64 294.55 L134.13 294.91 L136.61 294.71 L139.10 294.60 L141.58 294.65 L144.06 294.77 L146.55 294.86 L149.03 295.21 L151.52 294.99 L154.00 294.61" fill="none" stroke="#e2387e" stroke-width="0.8" stroke-linejoin="round" stroke-dasharray="2 1.2" opacity="1"/>
<path d="M29.80 294.55 L32.28 294.50 L34.77 294.30 L37.25 294.25 L39.74 294.26 L42.22 294.66 L44.70 294.20 L47.19 294.61 L49.67 294.70 L52.16 294.86 L54.64 294.53 L57.12 294.81 L59.61 294.71 L62.09 294.45 L64.58 294.31 L67.06 294.33 L69.54 294.85 L72.03 294.86 L74.51 294.71 L77.00 294.47 L79.48 294.25 L81.96 294.27 L84.45 294.16 L86.93 294.43 L89.42 294.39 L91.90 294.66 L94.38 294.64 L96.87 294.72 L99.35 294.46 L101.84 294.40 L104.32 294.42 L106.80 294.56 L109.29 294.53 L111.77 294.67 L114.26 294.22 L116.74 294.40 L119.22 294.27 L121.71 294.21 L124.19 294.63 L126.68 294.75 L129.16 294.62 L131.64 294.13 L134.13 294.21 L136.61 294.51 L139.10 294.22 L141.58 294.56 L144.06 294.14 L146.55 294.75 L149.03 294.24 L151.52 294.04 L154.00 294.48" fill="none" stroke="#e2387e" stroke-width="1.2" stroke-linejoin="round" opacity="1"/>
<path d="M29.80 295.88 L30.21 294.96 L30.63 293.81 L31.04 282.12 L31.46 264.27 L31.87 248.17 L32.28 233.38 L32.70 218.59 L33.11 223.16 L33.53 227.74 L33.94 232.02 L34.35 236.11 L34.77 240.19 L35.18 244.27 L35.60 248.35 L36.01 251.47 L36.42 253.95 L36.84 256.43 L37.25 258.91 L37.67 260.54 L38.08 261.97 L38.49 263.39 L38.91 264.82 L39.32 266.48 L39.74 267.38 L40.56 268.65 L41.39 269.93 L42.22 272.04 L43.05 272.37 L43.88 273.46 L44.70 273.08 L45.53 275.09 L46.36 273.52 L47.19 275.45 L48.02 274.48 L48.84 275.38 L49.67 274.98 L50.50 276.58 L51.33 276.56 L52.16 277.30 L52.98 276.16 L53.81 276.94 L54.64 277.89 L55.47 278.19 L56.30 278.69 L57.12 278.72 L57.95 278.27 L58.78 278.83 L59.61 278.95 L60.44 279.27 L62.18 282.83 L63.87 281.56 L65.62 286.45 L67.17 280.56 L68.88 288.48 L70.26 280.22 L71.97 289.22 L73.36 279.52 L74.71 290.69 L76.52 280.78 L78.31 290.62 L79.75 282.92 L81.44 291.11 L82.95 282.23 L84.30 290.86 L85.64 284.07 L87.46 290.41 L89.27 283.27 L90.94 290.77 L92.50 284.27 L93.87 291.87 L95.24 284.46 L97.02 294.07 L98.72 285.85 L100.07 293.63 L101.78 286.75 L103.11 292.39 L104.48 285.07 L105.86 293.49 L107.43 287.21 L108.82 293.61 L110.53 289.18 L111.93 293.53 L113.73 290.22 L115.31 293.41 L117.12 289.90 L118.74 293.78 L120.20 289.96 L121.58 294.14 L123.05 290.83 L124.60 293.84 L126.22 281.57 L127.55 294.00 L128.92 290.54 L130.50 294.76 L132.21 291.44 L134.01 284.20 L135.56 291.11 L137.23 294.97 L138.65 290.76 L140.19 294.40 L141.94 290.75 L143.70 286.70 L145.47 290.92 L147.28 295.10 L149.10 291.32 L150.80 295.19 L152.39 291.34 L153.91 295.33 L155.42 291.10" fill="none" stroke="#1a1a1a" stroke-width="1.3" stroke-linejoin="round" opacity="1"/>
<rect x="195.70" y="81.54" width="6.00" height="34.96" fill="#9b9b9b"/>
<rect x="205.90" y="36.40" width="6.00" height="13.10" fill="#9b9b9b"/>
<rect x="205.90" y="55.70" width="6.00" height="60.80" fill="#9b9b9b"/>
<rect x="224.00" y="89.44" width="6.00" height="27.06" fill="#f08aac"/>
<rect x="234.30" y="36.40" width="6.00" height="13.10" fill="#f08aac"/>
<rect x="234.30" y="55.70" width="6.00" height="60.80" fill="#f08aac"/>
<rect x="252.30" y="107.99" width="6.00" height="8.51" fill="#7fb0c7"/>
<rect x="262.60" y="108.60" width="6.00" height="7.90" fill="#7fb0c7"/>
<line x1="191.60" y1="19.20" x2="191.60" y2="49.50" stroke="#1a1a1a" stroke-width="1.0"/>
<line x1="191.60" y1="55.70" x2="191.60" y2="116.90" stroke="#1a1a1a" stroke-width="1.0"/>
<line x1="188.60" y1="49.50" x2="194.80" y2="49.50" stroke="#1a1a1a" stroke-width="0.85"/>
<line x1="188.60" y1="55.70" x2="194.80" y2="55.70" stroke="#1a1a1a" stroke-width="0.85"/>
<line x1="191.20" y1="116.50" x2="272.40" y2="116.50" stroke="#1a1a1a" stroke-width="1.0"/>
<line x1="188.60" y1="116.50" x2="191.60" y2="116.50" stroke="#1a1a1a" stroke-width="0.8"/>
<text x="185.40" y="118.80" font-size="6.4" fill="#2a2a2a" stroke="#2a2a2a" stroke-width="0.06" text-anchor="end">0</text>
<line x1="188.60" y1="101.30" x2="191.60" y2="101.30" stroke="#1a1a1a" stroke-width="0.8"/>
<text x="185.40" y="103.60" font-size="6.4" fill="#2a2a2a" stroke="#2a2a2a" stroke-width="0.06" text-anchor="end">5</text>
<line x1="188.60" y1="86.10" x2="191.60" y2="86.10" stroke="#1a1a1a" stroke-width="0.8"/>
<text x="185.40" y="88.40" font-size="6.4" fill="#2a2a2a" stroke="#2a2a2a" stroke-width="0.06" text-anchor="end">10</text>
<line x1="188.60" y1="70.90" x2="191.60" y2="70.90" stroke="#1a1a1a" stroke-width="0.8"/>
<text x="185.40" y="73.20" font-size="6.4" fill="#2a2a2a" stroke="#2a2a2a" stroke-width="0.06" text-anchor="end">15</text>
<line x1="188.60" y1="55.70" x2="191.60" y2="55.70" stroke="#1a1a1a" stroke-width="0.8"/>
<text x="185.40" y="58.00" font-size="6.4" fill="#2a2a2a" stroke="#2a2a2a" stroke-width="0.06" text-anchor="end">20</text>
<line x1="188.60" y1="49.50" x2="191.60" y2="49.50" stroke="#1a1a1a" stroke-width="0.8"/>
<text x="185.40" y="51.80" font-size="6.4" fill="#2a2a2a" stroke="#2a2a2a" stroke-width="0.06" text-anchor="end">50</text>
<line x1="188.60" y1="36.40" x2="191.60" y2="36.40" stroke="#1a1a1a" stroke-width="0.8"/>
<text x="185.40" y="38.70" font-size="6.4" fill="#2a2a2a" stroke="#2a2a2a" stroke-width="0.06" text-anchor="end">60</text>
<line x1="188.60" y1="23.30" x2="191.60" y2="23.30" stroke="#1a1a1a" stroke-width="0.8"/>
<text x="185.40" y="25.60" font-size="6.4" fill="#2a2a2a" stroke="#2a2a2a" stroke-width="0.06" text-anchor="end">70</text>
<line x1="198.70" y1="116.50" x2="198.70" y2="119.50" stroke="#1a1a1a" stroke-width="0.8"/>
<line x1="208.90" y1="116.50" x2="208.90" y2="119.50" stroke="#1a1a1a" stroke-width="0.8"/>
<line x1="227.00" y1="116.50" x2="227.00" y2="119.50" stroke="#1a1a1a" stroke-width="0.8"/>
<line x1="237.30" y1="116.50" x2="237.30" y2="119.50" stroke="#1a1a1a" stroke-width="0.8"/>
<line x1="255.30" y1="116.50" x2="255.30" y2="119.50" stroke="#1a1a1a" stroke-width="0.8"/>
<line x1="265.60" y1="116.50" x2="265.60" y2="119.50" stroke="#1a1a1a" stroke-width="0.8"/>
<circle cx="196.60" cy="74.70" r="1.35" fill="#1a1a1a"/>
<circle cx="200.70" cy="73.20" r="1.35" fill="#1a1a1a"/>
<circle cx="200.70" cy="76.10" r="1.35" fill="#1a1a1a"/>
<circle cx="196.60" cy="85.50" r="1.35" fill="#1a1a1a"/>
<circle cx="201.00" cy="86.70" r="1.35" fill="#1a1a1a"/>
<circle cx="198.50" cy="90.60" r="1.35" fill="#1a1a1a"/>
<circle cx="206.30" cy="36.30" r="1.35" fill="#1a1a1a"/>
<circle cx="207.34" cy="36.30" r="1.35" fill="#1a1a1a"/>
<circle cx="208.38" cy="36.30" r="1.35" fill="#1a1a1a"/>
<circle cx="209.42" cy="36.30" r="1.35" fill="#1a1a1a"/>
<circle cx="210.46" cy="36.30" r="1.35" fill="#1a1a1a"/>
<circle cx="211.50" cy="36.30" r="1.35" fill="#1a1a1a"/>
<circle cx="224.70" cy="84.70" r="1.35" fill="#c8105a"/>
<circle cx="226.50" cy="86.80" r="1.35" fill="#c8105a"/>
<circle cx="224.70" cy="89.70" r="1.35" fill="#c8105a"/>
<circle cx="228.70" cy="91.80" r="1.35" fill="#c8105a"/>
<circle cx="225.60" cy="92.40" r="1.35" fill="#c8105a"/>
<circle cx="228.20" cy="90.00" r="1.35" fill="#c8105a"/>
<circle cx="234.70" cy="36.30" r="1.35" fill="#c8105a"/>
<circle cx="235.74" cy="36.30" r="1.35" fill="#c8105a"/>
<circle cx="236.78" cy="36.30" r="1.35" fill="#c8105a"/>
<circle cx="237.82" cy="36.30" r="1.35" fill="#c8105a"/>
<circle cx="238.86" cy="36.30" r="1.35" fill="#c8105a"/>
<circle cx="239.90" cy="36.30" r="1.35" fill="#c8105a"/>
<circle cx="253.40" cy="106.90" r="1.35" fill="#1a6582"/>
<circle cx="255.30" cy="106.30" r="1.35" fill="#1a6582"/>
<circle cx="257.20" cy="107.00" r="1.35" fill="#1a6582"/>
<circle cx="254.00" cy="108.60" r="1.35" fill="#1a6582"/>
<circle cx="256.50" cy="108.80" r="1.35" fill="#1a6582"/>
<circle cx="255.30" cy="109.40" r="1.35" fill="#1a6582"/>
<circle cx="263.40" cy="106.70" r="1.5" fill="none" stroke="#1a6582" stroke-width="0.8"/>
<circle cx="267.50" cy="104.80" r="1.5" fill="none" stroke="#1a6582" stroke-width="0.8"/>
<circle cx="266.20" cy="107.90" r="1.5" fill="none" stroke="#1a6582" stroke-width="0.8"/>
<circle cx="264.50" cy="111.00" r="1.5" fill="none" stroke="#1a6582" stroke-width="0.8"/>
<circle cx="267.00" cy="111.00" r="1.5" fill="none" stroke="#1a6582" stroke-width="0.8"/>
<circle cx="265.00" cy="109.50" r="1.5" fill="none" stroke="#1a6582" stroke-width="0.8"/>
<path d="M196.30 28.90 L196.30 26.40 L209.80 26.40 L209.80 28.90" fill="none" stroke="#1a1a1a" stroke-width="0.85"/>
<text x="203.05" y="25.90" font-size="5.6" fill="#222" stroke="#222" stroke-width="0.35" text-anchor="middle">**</text>
<path d="M225.30 32.40 L225.30 29.90 L238.90 29.90 L238.90 32.40" fill="none" stroke="#1a1a1a" stroke-width="0.85"/>
<text x="232.10" y="29.40" font-size="5.6" fill="#222" stroke="#222" stroke-width="0.35" text-anchor="middle">**</text>
<text x="178.70" y="128.30" font-size="6.4" fill="#1c1c1c" stroke="#1c1c1c" stroke-width="0.18" textLength="6.9" lengthAdjust="spacingAndGlyphs" font-style="italic">F9</text>
<text x="197.85" y="128.70" font-size="6.4" fill="#1c1c1c" stroke="#1c1c1c" stroke-width="0.18" text-anchor="middle" textLength="10.0" lengthAdjust="spacingAndGlyphs">+/+</text>
<text x="209.45" y="128.70" font-size="6.4" fill="#1c1c1c" stroke="#1c1c1c" stroke-width="0.18" text-anchor="middle" textLength="8.9" lengthAdjust="spacingAndGlyphs">−/−</text>
<text x="226.15" y="128.70" font-size="6.4" fill="#1c1c1c" stroke="#1c1c1c" stroke-width="0.18" text-anchor="middle" textLength="10.0" lengthAdjust="spacingAndGlyphs">+/+</text>
<text x="237.85" y="128.70" font-size="6.4" fill="#1c1c1c" stroke="#1c1c1c" stroke-width="0.18" text-anchor="middle" textLength="8.9" lengthAdjust="spacingAndGlyphs">−/−</text>
<text x="254.45" y="128.70" font-size="6.4" fill="#1c1c1c" stroke="#1c1c1c" stroke-width="0.18" text-anchor="middle" textLength="10.0" lengthAdjust="spacingAndGlyphs">+/+</text>
<text x="266.15" y="128.70" font-size="6.4" fill="#1c1c1c" stroke="#1c1c1c" stroke-width="0.18" text-anchor="middle" textLength="8.9" lengthAdjust="spacingAndGlyphs">−/−</text>
<line x1="196.50" y1="132.70" x2="211.30" y2="132.70" stroke="#333" stroke-width="0.9"/>
<line x1="222.80" y1="132.70" x2="241.50" y2="132.70" stroke="#333" stroke-width="0.9"/>
<line x1="251.10" y1="132.70" x2="269.80" y2="132.70" stroke="#333" stroke-width="0.9"/>
<text x="196.60" y="141.10" font-size="6.6" fill="#1c1c1c" stroke="#1c1c1c" stroke-width="0.18" textLength="14.5" lengthAdjust="spacingAndGlyphs">Silica</text>
<text x="217.30" y="141.10" font-size="6.6" fill="#1c1c1c" stroke="#1c1c1c" stroke-width="0.18" textLength="29.0" lengthAdjust="spacingAndGlyphs">0.05pM TF</text>
<text x="250.60" y="141.10" font-size="6.6" fill="#1c1c1c" stroke="#1c1c1c" stroke-width="0.18" textLength="26.3" lengthAdjust="spacingAndGlyphs">0.5pM TF</text>
<text x="171.00" y="94.00" font-size="7.6" fill="#1c1c1c" stroke="#1c1c1c" stroke-width="0.15" textLength="47.5" lengthAdjust="spacingAndGlyphs" transform="rotate(-90 171.00 94.00)">Lag time (minute)</text>
<rect x="314.80" y="52.33" width="6.00" height="64.17" fill="#9b9b9b"/>
<rect x="325.00" y="116.13" width="6.00" height="0.37" fill="#9b9b9b"/>
<rect x="343.30" y="65.81" width="6.00" height="50.69" fill="#f08aac"/>
<rect x="353.50" y="116.13" width="6.00" height="0.37" fill="#f08aac"/>
<rect x="371.40" y="48.61" width="6.00" height="67.89" fill="#7fb0c7"/>
<rect x="381.80" y="107.20" width="6.00" height="9.30" fill="#7fb0c7"/>
<line x1="310.50" y1="16.10" x2="310.50" y2="116.90" stroke="#1a1a1a" stroke-width="1.0"/>
<line x1="310.10" y1="116.50" x2="391.00" y2="116.50" stroke="#1a1a1a" stroke-width="1.0"/>
<line x1="307.50" y1="116.50" x2="310.50" y2="116.50" stroke="#1a1a1a" stroke-width="0.8"/>
<text x="304.30" y="118.80" font-size="6.4" fill="#2a2a2a" stroke="#2a2a2a" stroke-width="0.06" text-anchor="end">0</text>
<line x1="307.50" y1="97.90" x2="310.50" y2="97.90" stroke="#1a1a1a" stroke-width="0.8"/>
<text x="304.30" y="100.20" font-size="6.4" fill="#2a2a2a" stroke="#2a2a2a" stroke-width="0.06" text-anchor="end">20</text>
<line x1="307.50" y1="79.30" x2="310.50" y2="79.30" stroke="#1a1a1a" stroke-width="0.8"/>
<text x="304.30" y="81.60" font-size="6.4" fill="#2a2a2a" stroke="#2a2a2a" stroke-width="0.06" text-anchor="end">40</text>
<line x1="307.50" y1="60.70" x2="310.50" y2="60.70" stroke="#1a1a1a" stroke-width="0.8"/>
<text x="304.30" y="63.00" font-size="6.4" fill="#2a2a2a" stroke="#2a2a2a" stroke-width="0.06" text-anchor="end">60</text>
<line x1="307.50" y1="42.10" x2="310.50" y2="42.10" stroke="#1a1a1a" stroke-width="0.8"/>
<text x="304.30" y="44.40" font-size="6.4" fill="#2a2a2a" stroke="#2a2a2a" stroke-width="0.06" text-anchor="end">80</text>
<line x1="307.50" y1="23.50" x2="310.50" y2="23.50" stroke="#1a1a1a" stroke-width="0.8"/>
<text x="304.30" y="25.80" font-size="6.4" fill="#2a2a2a" stroke="#2a2a2a" stroke-width="0.06" text-anchor="end">100</text>
<line x1="317.80" y1="116.50" x2="317.80" y2="119.50" stroke="#1a1a1a" stroke-width="0.8"/>
<line x1="328.00" y1="116.50" x2="328.00" y2="119.50" stroke="#1a1a1a" stroke-width="0.8"/>
<line x1="346.30" y1="116.50" x2="346.30" y2="119.50" stroke="#1a1a1a" stroke-width="0.8"/>
<line x1="356.50" y1="116.50" x2="356.50" y2="119.50" stroke="#1a1a1a" stroke-width="0.8"/>
<line x1="374.40" y1="116.50" x2="374.40" y2="119.50" stroke="#1a1a1a" stroke-width="0.8"/>
<line x1="384.80" y1="116.50" x2="384.80" y2="119.50" stroke="#1a1a1a" stroke-width="0.8"/>
<circle cx="317.30" cy="24.10" r="1.35" fill="#1a1a1a"/>
<circle cx="317.30" cy="43.00" r="1.35" fill="#1a1a1a"/>
<circle cx="315.50" cy="52.70" r="1.35" fill="#1a1a1a"/>
<circle cx="320.20" cy="51.70" r="1.35" fill="#1a1a1a"/>
<circle cx="318.00" cy="58.60" r="1.35" fill="#1a1a1a"/>
<circle cx="318.00" cy="75.30" r="1.35" fill="#1a1a1a"/>
<circle cx="325.20" cy="115.60" r="1.35" fill="#1a1a1a"/>
<circle cx="326.40" cy="115.60" r="1.35" fill="#1a1a1a"/>
<circle cx="327.60" cy="115.60" r="1.35" fill="#1a1a1a"/>
<circle cx="328.80" cy="115.60" r="1.35" fill="#1a1a1a"/>
<circle cx="330.00" cy="115.60" r="1.35" fill="#1a1a1a"/>
<circle cx="331.20" cy="115.60" r="1.35" fill="#1a1a1a"/>
<circle cx="346.00" cy="50.40" r="1.35" fill="#c8105a"/>
<circle cx="344.50" cy="61.80" r="1.35" fill="#c8105a"/>
<circle cx="348.00" cy="61.80" r="1.35" fill="#c8105a"/>
<circle cx="346.00" cy="68.50" r="1.35" fill="#c8105a"/>
<circle cx="346.50" cy="73.50" r="1.35" fill="#c8105a"/>
<circle cx="346.50" cy="78.40" r="1.35" fill="#c8105a"/>
<circle cx="353.60" cy="115.60" r="1.35" fill="#c8105a"/>
<circle cx="354.72" cy="115.60" r="1.35" fill="#c8105a"/>
<circle cx="355.84" cy="115.60" r="1.35" fill="#c8105a"/>
<circle cx="356.96" cy="115.60" r="1.35" fill="#c8105a"/>
<circle cx="358.08" cy="115.60" r="1.35" fill="#c8105a"/>
<circle cx="359.20" cy="115.60" r="1.35" fill="#c8105a"/>
<circle cx="374.80" cy="33.90" r="1.35" fill="#1a6582"/>
<circle cx="374.80" cy="39.40" r="1.35" fill="#1a6582"/>
<circle cx="372.60" cy="48.80" r="1.35" fill="#1a6582"/>
<circle cx="377.20" cy="48.80" r="1.35" fill="#1a6582"/>
<circle cx="374.80" cy="55.90" r="1.35" fill="#1a6582"/>
<circle cx="374.50" cy="64.80" r="1.35" fill="#1a6582"/>
<circle cx="384.90" cy="101.40" r="1.5" fill="none" stroke="#1a6582" stroke-width="0.8"/>
<circle cx="382.70" cy="104.40" r="1.5" fill="none" stroke="#1a6582" stroke-width="0.8"/>
<circle cx="387.20" cy="102.90" r="1.5" fill="none" stroke="#1a6582" stroke-width="0.8"/>
<circle cx="384.90" cy="106.30" r="1.5" fill="none" stroke="#1a6582" stroke-width="0.8"/>
<circle cx="383.40" cy="107.80" r="1.5" fill="none" stroke="#1a6582" stroke-width="0.8"/>
<circle cx="386.40" cy="107.40" r="1.5" fill="none" stroke="#1a6582" stroke-width="0.8"/>
<circle cx="384.60" cy="109.30" r="1.5" fill="none" stroke="#1a6582" stroke-width="0.8"/>
<path d="M317.30 21.80 L317.30 19.30 L328.00 19.30 L328.00 21.80" fill="none" stroke="#1a1a1a" stroke-width="0.85"/>
<text x="322.65" y="18.80" font-size="5.6" fill="#222" stroke="#222" stroke-width="0.35" text-anchor="middle">**</text>
<path d="M344.90 46.40 L344.90 43.90 L358.00 43.90 L358.00 46.40" fill="none" stroke="#1a1a1a" stroke-width="0.85"/>
<text x="351.45" y="43.40" font-size="5.6" fill="#222" stroke="#222" stroke-width="0.35" text-anchor="middle">**</text>
<path d="M373.50 30.60 L373.50 28.10 L386.60 28.10 L386.60 30.60" fill="none" stroke="#1a1a1a" stroke-width="0.85"/>
<text x="380.05" y="27.60" font-size="5.6" fill="#222" stroke="#222" stroke-width="0.35" text-anchor="middle">**</text>
<text x="297.60" y="128.30" font-size="6.4" fill="#1c1c1c" stroke="#1c1c1c" stroke-width="0.18" textLength="6.9" lengthAdjust="spacingAndGlyphs" font-style="italic">F9</text>
<text x="316.95" y="128.70" font-size="6.4" fill="#1c1c1c" stroke="#1c1c1c" stroke-width="0.18" text-anchor="middle" textLength="10.0" lengthAdjust="spacingAndGlyphs">+/+</text>
<text x="328.55" y="128.70" font-size="6.4" fill="#1c1c1c" stroke="#1c1c1c" stroke-width="0.18" text-anchor="middle" textLength="8.9" lengthAdjust="spacingAndGlyphs">−/−</text>
<text x="345.45" y="128.70" font-size="6.4" fill="#1c1c1c" stroke="#1c1c1c" stroke-width="0.18" text-anchor="middle" textLength="10.0" lengthAdjust="spacingAndGlyphs">+/+</text>
<text x="357.05" y="128.70" font-size="6.4" fill="#1c1c1c" stroke="#1c1c1c" stroke-width="0.18" text-anchor="middle" textLength="8.9" lengthAdjust="spacingAndGlyphs">−/−</text>
<text x="373.55" y="128.70" font-size="6.4" fill="#1c1c1c" stroke="#1c1c1c" stroke-width="0.18" text-anchor="middle" textLength="10.0" lengthAdjust="spacingAndGlyphs">+/+</text>
<text x="385.35" y="128.70" font-size="6.4" fill="#1c1c1c" stroke="#1c1c1c" stroke-width="0.18" text-anchor="middle" textLength="8.9" lengthAdjust="spacingAndGlyphs">−/−</text>
<line x1="315.60" y1="132.70" x2="330.40" y2="132.70" stroke="#333" stroke-width="0.9"/>
<line x1="342.10" y1="132.70" x2="360.70" y2="132.70" stroke="#333" stroke-width="0.9"/>
<line x1="370.20" y1="132.70" x2="389.00" y2="132.70" stroke="#333" stroke-width="0.9"/>
<text x="315.70" y="141.10" font-size="6.6" fill="#1c1c1c" stroke="#1c1c1c" stroke-width="0.18" textLength="14.3" lengthAdjust="spacingAndGlyphs">Silica</text>
<text x="336.50" y="141.10" font-size="6.6" fill="#1c1c1c" stroke="#1c1c1c" stroke-width="0.18" textLength="28.4" lengthAdjust="spacingAndGlyphs">0.05pM TF</text>
<text x="370.20" y="141.10" font-size="6.6" fill="#1c1c1c" stroke="#1c1c1c" stroke-width="0.18" textLength="25.0" lengthAdjust="spacingAndGlyphs">0.5pM TF</text>
<text x="287.60" y="108.50" font-size="7.6" fill="#1c1c1c" stroke="#1c1c1c" stroke-width="0.15" textLength="76.0" lengthAdjust="spacingAndGlyphs" transform="rotate(-90 287.60 108.50)">Peak height (nM thrombin)</text>
<rect x="438.00" y="53.57" width="6.00" height="62.93" fill="#9b9b9b"/>
<rect x="448.30" y="116.27" width="6.00" height="0.23" fill="#9b9b9b"/>
<rect x="466.50" y="43.50" width="6.00" height="73.00" fill="#f08aac"/>
<rect x="476.70" y="116.27" width="6.00" height="0.23" fill="#f08aac"/>
<rect x="494.80" y="48.38" width="6.00" height="68.12" fill="#7fb0c7"/>
<rect x="505.00" y="107.82" width="6.00" height="8.68" fill="#7fb0c7"/>
<line x1="433.60" y1="16.00" x2="433.60" y2="116.90" stroke="#1a1a1a" stroke-width="1.0"/>
<line x1="433.20" y1="116.50" x2="514.00" y2="116.50" stroke="#1a1a1a" stroke-width="1.0"/>
<line x1="430.60" y1="116.50" x2="433.60" y2="116.50" stroke="#1a1a1a" stroke-width="0.8"/>
<text x="427.40" y="118.80" font-size="6.4" fill="#2a2a2a" stroke="#2a2a2a" stroke-width="0.06" text-anchor="end">0</text>
<line x1="430.60" y1="101.00" x2="433.60" y2="101.00" stroke="#1a1a1a" stroke-width="0.8"/>
<text x="427.40" y="103.30" font-size="6.4" fill="#2a2a2a" stroke="#2a2a2a" stroke-width="0.06" text-anchor="end">200</text>
<line x1="430.60" y1="85.50" x2="433.60" y2="85.50" stroke="#1a1a1a" stroke-width="0.8"/>
<text x="427.40" y="87.80" font-size="6.4" fill="#2a2a2a" stroke="#2a2a2a" stroke-width="0.06" text-anchor="end">400</text>
<line x1="430.60" y1="70.00" x2="433.60" y2="70.00" stroke="#1a1a1a" stroke-width="0.8"/>
<text x="427.40" y="72.30" font-size="6.4" fill="#2a2a2a" stroke="#2a2a2a" stroke-width="0.06" text-anchor="end">600</text>
<line x1="430.60" y1="54.50" x2="433.60" y2="54.50" stroke="#1a1a1a" stroke-width="0.8"/>
<text x="427.40" y="56.80" font-size="6.4" fill="#2a2a2a" stroke="#2a2a2a" stroke-width="0.06" text-anchor="end">800</text>
<line x1="430.60" y1="39.00" x2="433.60" y2="39.00" stroke="#1a1a1a" stroke-width="0.8"/>
<text x="427.40" y="41.30" font-size="6.4" fill="#2a2a2a" stroke="#2a2a2a" stroke-width="0.06" text-anchor="end">1000</text>
<line x1="430.60" y1="23.50" x2="433.60" y2="23.50" stroke="#1a1a1a" stroke-width="0.8"/>
<text x="427.40" y="25.80" font-size="6.4" fill="#2a2a2a" stroke="#2a2a2a" stroke-width="0.06" text-anchor="end">1200</text>
<line x1="441.00" y1="116.50" x2="441.00" y2="119.50" stroke="#1a1a1a" stroke-width="0.8"/>
<line x1="451.30" y1="116.50" x2="451.30" y2="119.50" stroke="#1a1a1a" stroke-width="0.8"/>
<line x1="469.50" y1="116.50" x2="469.50" y2="119.50" stroke="#1a1a1a" stroke-width="0.8"/>
<line x1="479.70" y1="116.50" x2="479.70" y2="119.50" stroke="#1a1a1a" stroke-width="0.8"/>
<line x1="497.80" y1="116.50" x2="497.80" y2="119.50" stroke="#1a1a1a" stroke-width="0.8"/>
<line x1="508.00" y1="116.50" x2="508.00" y2="119.50" stroke="#1a1a1a" stroke-width="0.8"/>
<circle cx="438.80" cy="32.90" r="1.35" fill="#1a1a1a"/>
<circle cx="443.50" cy="35.00" r="1.35" fill="#1a1a1a"/>
<circle cx="441.20" cy="49.80" r="1.35" fill="#1a1a1a"/>
<circle cx="438.80" cy="52.40" r="1.35" fill="#1a1a1a"/>
<circle cx="443.50" cy="53.50" r="1.35" fill="#1a1a1a"/>
<circle cx="438.80" cy="55.80" r="1.35" fill="#1a1a1a"/>
<circle cx="448.50" cy="115.80" r="1.35" fill="#1a1a1a"/>
<circle cx="449.62" cy="115.80" r="1.35" fill="#1a1a1a"/>
<circle cx="450.74" cy="115.80" r="1.35" fill="#1a1a1a"/>
<circle cx="451.86" cy="115.80" r="1.35" fill="#1a1a1a"/>
<circle cx="452.98" cy="115.80" r="1.35" fill="#1a1a1a"/>
<circle cx="454.10" cy="115.80" r="1.35" fill="#1a1a1a"/>
<circle cx="466.90" cy="43.80" r="1.35" fill="#c8105a"/>
<circle cx="468.70" cy="42.70" r="1.35" fill="#c8105a"/>
<circle cx="471.70" cy="43.10" r="1.35" fill="#c8105a"/>
<circle cx="470.40" cy="44.40" r="1.35" fill="#c8105a"/>
<circle cx="469.50" cy="48.70" r="1.35" fill="#c8105a"/>
<circle cx="469.50" cy="55.00" r="1.35" fill="#c8105a"/>
<circle cx="476.80" cy="115.80" r="1.35" fill="#c8105a"/>
<circle cx="477.92" cy="115.80" r="1.35" fill="#c8105a"/>
<circle cx="479.04" cy="115.80" r="1.35" fill="#c8105a"/>
<circle cx="480.16" cy="115.80" r="1.35" fill="#c8105a"/>
<circle cx="481.28" cy="115.80" r="1.35" fill="#c8105a"/>
<circle cx="482.40" cy="115.80" r="1.35" fill="#c8105a"/>
<circle cx="495.90" cy="44.70" r="1.35" fill="#1a6582"/>
<circle cx="498.40" cy="46.00" r="1.35" fill="#1a6582"/>
<circle cx="500.10" cy="46.00" r="1.35" fill="#1a6582"/>
<circle cx="498.00" cy="49.70" r="1.35" fill="#1a6582"/>
<circle cx="498.00" cy="54.20" r="1.35" fill="#1a6582"/>
<circle cx="498.00" cy="58.40" r="1.35" fill="#1a6582"/>
<circle cx="508.00" cy="96.10" r="1.5" fill="none" stroke="#1a6582" stroke-width="0.8"/>
<circle cx="506.00" cy="104.30" r="1.5" fill="none" stroke="#1a6582" stroke-width="0.8"/>
<circle cx="510.00" cy="106.00" r="1.5" fill="none" stroke="#1a6582" stroke-width="0.8"/>
<circle cx="506.50" cy="108.50" r="1.5" fill="none" stroke="#1a6582" stroke-width="0.8"/>
<circle cx="510.00" cy="109.80" r="1.5" fill="none" stroke="#1a6582" stroke-width="0.8"/>
<circle cx="507.00" cy="112.20" r="1.5" fill="none" stroke="#1a6582" stroke-width="0.8"/>
<circle cx="509.00" cy="113.50" r="1.5" fill="none" stroke="#1a6582" stroke-width="0.8"/>
<path d="M439.80 27.50 L439.80 25.00 L453.40 25.00 L453.40 27.50" fill="none" stroke="#1a1a1a" stroke-width="0.85"/>
<text x="446.60" y="24.50" font-size="5.6" fill="#222" stroke="#222" stroke-width="0.35" text-anchor="middle">**</text>
<path d="M469.30 33.80 L469.30 31.30 L482.20 31.30 L482.20 33.80" fill="none" stroke="#1a1a1a" stroke-width="0.85"/>
<text x="475.75" y="30.80" font-size="5.6" fill="#222" stroke="#222" stroke-width="0.35" text-anchor="middle">**</text>
<path d="M497.60 37.50 L497.60 35.00 L510.30 35.00 L510.30 37.50" fill="none" stroke="#1a1a1a" stroke-width="0.85"/>
<text x="503.95" y="34.50" font-size="5.6" fill="#222" stroke="#222" stroke-width="0.35" text-anchor="middle">**</text>
<text x="420.70" y="128.30" font-size="6.4" fill="#1c1c1c" stroke="#1c1c1c" stroke-width="0.18" textLength="6.9" lengthAdjust="spacingAndGlyphs" font-style="italic">F9</text>
<text x="440.15" y="128.70" font-size="6.4" fill="#1c1c1c" stroke="#1c1c1c" stroke-width="0.18" text-anchor="middle" textLength="10.0" lengthAdjust="spacingAndGlyphs">+/+</text>
<text x="451.85" y="128.70" font-size="6.4" fill="#1c1c1c" stroke="#1c1c1c" stroke-width="0.18" text-anchor="middle" textLength="8.9" lengthAdjust="spacingAndGlyphs">−/−</text>
<text x="468.65" y="128.70" font-size="6.4" fill="#1c1c1c" stroke="#1c1c1c" stroke-width="0.18" text-anchor="middle" textLength="10.0" lengthAdjust="spacingAndGlyphs">+/+</text>
<text x="480.25" y="128.70" font-size="6.4" fill="#1c1c1c" stroke="#1c1c1c" stroke-width="0.18" text-anchor="middle" textLength="8.9" lengthAdjust="spacingAndGlyphs">−/−</text>
<text x="496.95" y="128.70" font-size="6.4" fill="#1c1c1c" stroke="#1c1c1c" stroke-width="0.18" text-anchor="middle" textLength="10.0" lengthAdjust="spacingAndGlyphs">+/+</text>
<text x="508.55" y="128.70" font-size="6.4" fill="#1c1c1c" stroke="#1c1c1c" stroke-width="0.18" text-anchor="middle" textLength="8.9" lengthAdjust="spacingAndGlyphs">−/−</text>
<line x1="438.80" y1="132.70" x2="453.70" y2="132.70" stroke="#333" stroke-width="0.9"/>
<line x1="465.30" y1="132.70" x2="483.90" y2="132.70" stroke="#333" stroke-width="0.9"/>
<line x1="493.60" y1="132.70" x2="512.20" y2="132.70" stroke="#333" stroke-width="0.9"/>
<text x="439.50" y="141.10" font-size="6.6" fill="#1c1c1c" stroke="#1c1c1c" stroke-width="0.18" textLength="14.7" lengthAdjust="spacingAndGlyphs">Silica</text>
<text x="459.60" y="141.10" font-size="6.6" fill="#1c1c1c" stroke="#1c1c1c" stroke-width="0.18" textLength="28.0" lengthAdjust="spacingAndGlyphs">0.05pM TF</text>
<text x="493.60" y="141.10" font-size="6.6" fill="#1c1c1c" stroke="#1c1c1c" stroke-width="0.18" textLength="25.8" lengthAdjust="spacingAndGlyphs">0.5pM TF</text>
<text x="407.50" y="93.00" font-size="7.6" fill="#1c1c1c" stroke="#1c1c1c" stroke-width="0.15" textLength="56.0" lengthAdjust="spacingAndGlyphs" transform="rotate(-90 407.50 93.00)">ETP (nM*minute)</text>
<rect x="195.70" y="276.76" width="6.00" height="7.94" fill="#9b9b9b"/>
<rect x="205.90" y="194.56" width="6.00" height="22.84" fill="#9b9b9b"/>
<rect x="205.90" y="223.60" width="6.00" height="61.10" fill="#9b9b9b"/>
<rect x="224.00" y="254.15" width="6.00" height="30.55" fill="#f08aac"/>
<rect x="234.30" y="251.09" width="6.00" height="33.61" fill="#f08aac"/>
<rect x="252.30" y="274.31" width="6.00" height="10.39" fill="#7fb0c7"/>
<rect x="262.60" y="274.31" width="6.00" height="10.39" fill="#7fb0c7"/>
<line x1="191.20" y1="188.00" x2="191.20" y2="217.40" stroke="#1a1a1a" stroke-width="1.0"/>
<line x1="191.20" y1="223.60" x2="191.20" y2="285.10" stroke="#1a1a1a" stroke-width="1.0"/>
<line x1="188.20" y1="217.40" x2="194.40" y2="217.40" stroke="#1a1a1a" stroke-width="0.85"/>
<line x1="188.20" y1="223.60" x2="194.40" y2="223.60" stroke="#1a1a1a" stroke-width="0.85"/>
<line x1="190.80" y1="284.70" x2="272.10" y2="284.70" stroke="#1a1a1a" stroke-width="1.0"/>
<line x1="188.20" y1="284.70" x2="191.20" y2="284.70" stroke="#1a1a1a" stroke-width="0.8"/>
<text x="185.00" y="287.00" font-size="6.4" fill="#2a2a2a" stroke="#2a2a2a" stroke-width="0.06" text-anchor="end">0</text>
<line x1="188.20" y1="272.48" x2="191.20" y2="272.48" stroke="#1a1a1a" stroke-width="0.8"/>
<text x="185.00" y="274.78" font-size="6.4" fill="#2a2a2a" stroke="#2a2a2a" stroke-width="0.06" text-anchor="end">2</text>
<line x1="188.20" y1="260.26" x2="191.20" y2="260.26" stroke="#1a1a1a" stroke-width="0.8"/>
<text x="185.00" y="262.56" font-size="6.4" fill="#2a2a2a" stroke="#2a2a2a" stroke-width="0.06" text-anchor="end">4</text>
<line x1="188.20" y1="248.04" x2="191.20" y2="248.04" stroke="#1a1a1a" stroke-width="0.8"/>
<text x="185.00" y="250.34" font-size="6.4" fill="#2a2a2a" stroke="#2a2a2a" stroke-width="0.06" text-anchor="end">6</text>
<line x1="188.20" y1="235.82" x2="191.20" y2="235.82" stroke="#1a1a1a" stroke-width="0.8"/>
<text x="185.00" y="238.12" font-size="6.4" fill="#2a2a2a" stroke="#2a2a2a" stroke-width="0.06" text-anchor="end">8</text>
<line x1="188.20" y1="223.60" x2="191.20" y2="223.60" stroke="#1a1a1a" stroke-width="0.8"/>
<text x="185.00" y="225.90" font-size="6.4" fill="#2a2a2a" stroke="#2a2a2a" stroke-width="0.06" text-anchor="end">10</text>
<line x1="188.20" y1="213.90" x2="191.20" y2="213.90" stroke="#1a1a1a" stroke-width="0.8"/>
<text x="185.00" y="216.20" font-size="6.4" fill="#2a2a2a" stroke="#2a2a2a" stroke-width="0.06" text-anchor="end">40</text>
<line x1="188.20" y1="206.46" x2="191.20" y2="206.46" stroke="#1a1a1a" stroke-width="0.8"/>
<text x="185.00" y="208.76" font-size="6.4" fill="#2a2a2a" stroke="#2a2a2a" stroke-width="0.06" text-anchor="end">60</text>
<line x1="188.20" y1="199.02" x2="191.20" y2="199.02" stroke="#1a1a1a" stroke-width="0.8"/>
<text x="185.00" y="201.32" font-size="6.4" fill="#2a2a2a" stroke="#2a2a2a" stroke-width="0.06" text-anchor="end">80</text>
<line x1="188.20" y1="191.58" x2="191.20" y2="191.58" stroke="#1a1a1a" stroke-width="0.8"/>
<text x="185.00" y="193.88" font-size="6.4" fill="#2a2a2a" stroke="#2a2a2a" stroke-width="0.06" text-anchor="end">100</text>
<line x1="198.70" y1="284.70" x2="198.70" y2="287.70" stroke="#1a1a1a" stroke-width="0.8"/>
<line x1="208.90" y1="284.70" x2="208.90" y2="287.70" stroke="#1a1a1a" stroke-width="0.8"/>
<line x1="227.00" y1="284.70" x2="227.00" y2="287.70" stroke="#1a1a1a" stroke-width="0.8"/>
<line x1="237.30" y1="284.70" x2="237.30" y2="287.70" stroke="#1a1a1a" stroke-width="0.8"/>
<line x1="255.30" y1="284.70" x2="255.30" y2="287.70" stroke="#1a1a1a" stroke-width="0.8"/>
<line x1="265.60" y1="284.70" x2="265.60" y2="287.70" stroke="#1a1a1a" stroke-width="0.8"/>
<circle cx="197.30" cy="275.60" r="1.35" fill="#1a1a1a"/>
<circle cx="199.00" cy="274.70" r="1.35" fill="#1a1a1a"/>
<circle cx="200.60" cy="275.80" r="1.35" fill="#1a1a1a"/>
<circle cx="198.20" cy="276.70" r="1.35" fill="#1a1a1a"/>
<circle cx="201.30" cy="276.50" r="1.35" fill="#1a1a1a"/>
<circle cx="199.60" cy="276.20" r="1.35" fill="#1a1a1a"/>
<circle cx="206.10" cy="195.30" r="1.35" fill="#1a1a1a"/>
<circle cx="207.22" cy="195.30" r="1.35" fill="#1a1a1a"/>
<circle cx="208.34" cy="195.30" r="1.35" fill="#1a1a1a"/>
<circle cx="209.46" cy="195.30" r="1.35" fill="#1a1a1a"/>
<circle cx="210.58" cy="195.30" r="1.35" fill="#1a1a1a"/>
<circle cx="211.70" cy="195.30" r="1.35" fill="#1a1a1a"/>
<circle cx="209.00" cy="276.00" r="1.5" fill="none" stroke="#1a1a1a" stroke-width="0.8"/>
<circle cx="224.50" cy="254.10" r="1.35" fill="#c8105a"/>
<circle cx="227.00" cy="252.40" r="1.35" fill="#c8105a"/>
<circle cx="229.50" cy="249.90" r="1.35" fill="#c8105a"/>
<circle cx="226.50" cy="261.00" r="1.35" fill="#c8105a"/>
<circle cx="226.50" cy="266.80" r="1.35" fill="#c8105a"/>
<circle cx="225.50" cy="255.50" r="1.35" fill="#c8105a"/>
<circle cx="236.80" cy="241.80" r="1.5" fill="none" stroke="#c8105a" stroke-width="0.8"/>
<circle cx="236.80" cy="245.90" r="1.5" fill="none" stroke="#c8105a" stroke-width="0.8"/>
<circle cx="234.60" cy="249.70" r="1.5" fill="none" stroke="#c8105a" stroke-width="0.8"/>
<circle cx="239.20" cy="249.70" r="1.5" fill="none" stroke="#c8105a" stroke-width="0.8"/>
<circle cx="236.80" cy="264.80" r="1.5" fill="none" stroke="#c8105a" stroke-width="0.8"/>
<circle cx="236.80" cy="274.40" r="1.5" fill="none" stroke="#c8105a" stroke-width="0.8"/>
<circle cx="253.00" cy="275.00" r="1.35" fill="#1a6582"/>
<circle cx="254.50" cy="274.30" r="1.35" fill="#1a6582"/>
<circle cx="256.00" cy="274.80" r="1.35" fill="#1a6582"/>
<circle cx="255.00" cy="275.80" r="1.35" fill="#1a6582"/>
<circle cx="257.00" cy="275.50" r="1.35" fill="#1a6582"/>
<circle cx="253.50" cy="276.20" r="1.35" fill="#1a6582"/>
<circle cx="263.00" cy="274.50" r="1.5" fill="none" stroke="#1a6582" stroke-width="0.8"/>
<circle cx="265.00" cy="274.00" r="1.5" fill="none" stroke="#1a6582" stroke-width="0.8"/>
<circle cx="267.00" cy="274.80" r="1.5" fill="none" stroke="#1a6582" stroke-width="0.8"/>
<circle cx="264.00" cy="276.50" r="1.5" fill="none" stroke="#1a6582" stroke-width="0.8"/>
<circle cx="266.50" cy="276.50" r="1.5" fill="none" stroke="#1a6582" stroke-width="0.8"/>
<circle cx="265.30" cy="275.50" r="1.5" fill="none" stroke="#1a6582" stroke-width="0.8"/>
<path d="M196.00 192.00 L196.00 189.50 L209.70 189.50 L209.70 192.00" fill="none" stroke="#1a1a1a" stroke-width="0.85"/>
<text x="202.85" y="189.00" font-size="5.0" fill="#222" stroke="#222" stroke-width="0.1" text-anchor="middle">*</text>
<text x="178.30" y="296.50" font-size="6.4" fill="#1c1c1c" stroke="#1c1c1c" stroke-width="0.18" textLength="6.9" lengthAdjust="spacingAndGlyphs" font-style="italic">F9</text>
<text x="197.85" y="296.90" font-size="6.4" fill="#1c1c1c" stroke="#1c1c1c" stroke-width="0.18" text-anchor="middle" textLength="10.0" lengthAdjust="spacingAndGlyphs">+/+</text>
<text x="209.45" y="296.90" font-size="6.4" fill="#1c1c1c" stroke="#1c1c1c" stroke-width="0.18" text-anchor="middle" textLength="8.9" lengthAdjust="spacingAndGlyphs">−/−</text>
<text x="226.15" y="296.90" font-size="6.4" fill="#1c1c1c" stroke="#1c1c1c" stroke-width="0.18" text-anchor="middle" textLength="10.0" lengthAdjust="spacingAndGlyphs">+/+</text>
<text x="237.85" y="296.90" font-size="6.4" fill="#1c1c1c" stroke="#1c1c1c" stroke-width="0.18" text-anchor="middle" textLength="8.9" lengthAdjust="spacingAndGlyphs">−/−</text>
<text x="254.45" y="296.90" font-size="6.4" fill="#1c1c1c" stroke="#1c1c1c" stroke-width="0.18" text-anchor="middle" textLength="10.0" lengthAdjust="spacingAndGlyphs">+/+</text>
<text x="266.15" y="296.90" font-size="6.4" fill="#1c1c1c" stroke="#1c1c1c" stroke-width="0.18" text-anchor="middle" textLength="8.9" lengthAdjust="spacingAndGlyphs">−/−</text>
<line x1="196.50" y1="300.90" x2="211.30" y2="300.90" stroke="#333" stroke-width="0.9"/>
<line x1="222.80" y1="300.90" x2="241.50" y2="300.90" stroke="#333" stroke-width="0.9"/>
<line x1="251.10" y1="300.90" x2="269.80" y2="300.90" stroke="#333" stroke-width="0.9"/>
<text x="196.80" y="309.30" font-size="6.6" fill="#1c1c1c" stroke="#1c1c1c" stroke-width="0.18" textLength="14.5" lengthAdjust="spacingAndGlyphs">Silica</text>
<text x="217.30" y="309.30" font-size="6.6" fill="#1c1c1c" stroke="#1c1c1c" stroke-width="0.18" textLength="29.0" lengthAdjust="spacingAndGlyphs">0.05pM TF</text>
<text x="250.60" y="309.30" font-size="6.6" fill="#1c1c1c" stroke="#1c1c1c" stroke-width="0.18" textLength="26.3" lengthAdjust="spacingAndGlyphs">0.5pM TF</text>
<text x="167.90" y="260.00" font-size="7.6" fill="#1c1c1c" stroke="#1c1c1c" stroke-width="0.15" textLength="47.4" lengthAdjust="spacingAndGlyphs" transform="rotate(-90 167.90 260.00)">Lag time (minute)</text>
<rect x="314.80" y="205.89" width="6.00" height="37.91" fill="#9b9b9b"/>
<rect x="314.80" y="249.90" width="6.00" height="34.80" fill="#9b9b9b"/>
<rect x="325.00" y="283.66" width="6.00" height="1.04" fill="#9b9b9b"/>
<rect x="343.30" y="278.26" width="6.00" height="6.44" fill="#f08aac"/>
<rect x="353.50" y="280.35" width="6.00" height="4.35" fill="#f08aac"/>
<rect x="371.40" y="229.43" width="6.00" height="14.37" fill="#7fb0c7"/>
<rect x="371.40" y="249.90" width="6.00" height="34.80" fill="#7fb0c7"/>
<rect x="381.80" y="229.43" width="6.00" height="14.37" fill="#7fb0c7"/>
<rect x="381.80" y="249.90" width="6.00" height="34.80" fill="#7fb0c7"/>
<line x1="310.80" y1="186.00" x2="310.80" y2="243.80" stroke="#1a1a1a" stroke-width="1.0"/>
<line x1="310.80" y1="249.90" x2="310.80" y2="285.10" stroke="#1a1a1a" stroke-width="1.0"/>
<line x1="307.80" y1="243.80" x2="314.00" y2="243.80" stroke="#1a1a1a" stroke-width="0.85"/>
<line x1="307.80" y1="249.90" x2="314.00" y2="249.90" stroke="#1a1a1a" stroke-width="0.85"/>
<line x1="310.40" y1="284.70" x2="391.00" y2="284.70" stroke="#1a1a1a" stroke-width="1.0"/>
<line x1="307.80" y1="284.70" x2="310.80" y2="284.70" stroke="#1a1a1a" stroke-width="0.8"/>
<text x="304.60" y="287.00" font-size="6.4" fill="#2a2a2a" stroke="#2a2a2a" stroke-width="0.06" text-anchor="end">0</text>
<line x1="307.80" y1="267.30" x2="310.80" y2="267.30" stroke="#1a1a1a" stroke-width="0.8"/>
<text x="304.60" y="269.60" font-size="6.4" fill="#2a2a2a" stroke="#2a2a2a" stroke-width="0.06" text-anchor="end">10</text>
<line x1="307.80" y1="249.90" x2="310.80" y2="249.90" stroke="#1a1a1a" stroke-width="0.8"/>
<text x="304.60" y="252.20" font-size="6.4" fill="#2a2a2a" stroke="#2a2a2a" stroke-width="0.06" text-anchor="end">20</text>
<line x1="307.80" y1="243.80" x2="310.80" y2="243.80" stroke="#1a1a1a" stroke-width="0.8"/>
<text x="304.60" y="246.10" font-size="6.4" fill="#2a2a2a" stroke="#2a2a2a" stroke-width="0.06" text-anchor="end">20</text>
<line x1="307.80" y1="230.74" x2="310.80" y2="230.74" stroke="#1a1a1a" stroke-width="0.8"/>
<text x="304.60" y="233.04" font-size="6.4" fill="#2a2a2a" stroke="#2a2a2a" stroke-width="0.06" text-anchor="end">40</text>
<line x1="307.80" y1="217.66" x2="310.80" y2="217.66" stroke="#1a1a1a" stroke-width="0.8"/>
<text x="304.60" y="219.96" font-size="6.4" fill="#2a2a2a" stroke="#2a2a2a" stroke-width="0.06" text-anchor="end">60</text>
<line x1="307.80" y1="204.58" x2="310.80" y2="204.58" stroke="#1a1a1a" stroke-width="0.8"/>
<text x="304.60" y="206.88" font-size="6.4" fill="#2a2a2a" stroke="#2a2a2a" stroke-width="0.06" text-anchor="end">80</text>
<line x1="307.80" y1="191.50" x2="310.80" y2="191.50" stroke="#1a1a1a" stroke-width="0.8"/>
<text x="304.60" y="193.80" font-size="6.4" fill="#2a2a2a" stroke="#2a2a2a" stroke-width="0.06" text-anchor="end">100</text>
<line x1="317.80" y1="284.70" x2="317.80" y2="287.70" stroke="#1a1a1a" stroke-width="0.8"/>
<line x1="328.00" y1="284.70" x2="328.00" y2="287.70" stroke="#1a1a1a" stroke-width="0.8"/>
<line x1="346.30" y1="284.70" x2="346.30" y2="287.70" stroke="#1a1a1a" stroke-width="0.8"/>
<line x1="356.50" y1="284.70" x2="356.50" y2="287.70" stroke="#1a1a1a" stroke-width="0.8"/>
<line x1="374.40" y1="284.70" x2="374.40" y2="287.70" stroke="#1a1a1a" stroke-width="0.8"/>
<line x1="384.80" y1="284.70" x2="384.80" y2="287.70" stroke="#1a1a1a" stroke-width="0.8"/>
<circle cx="318.00" cy="197.10" r="1.35" fill="#1a1a1a"/>
<circle cx="315.80" cy="200.90" r="1.35" fill="#1a1a1a"/>
<circle cx="320.10" cy="201.80" r="1.35" fill="#1a1a1a"/>
<circle cx="315.80" cy="207.60" r="1.35" fill="#1a1a1a"/>
<circle cx="320.10" cy="207.60" r="1.35" fill="#1a1a1a"/>
<circle cx="318.00" cy="215.40" r="1.35" fill="#1a1a1a"/>
<circle cx="325.20" cy="284.00" r="1.35" fill="#1a1a1a"/>
<circle cx="326.32" cy="284.00" r="1.35" fill="#1a1a1a"/>
<circle cx="327.44" cy="284.00" r="1.35" fill="#1a1a1a"/>
<circle cx="328.56" cy="284.00" r="1.35" fill="#1a1a1a"/>
<circle cx="329.68" cy="284.00" r="1.35" fill="#1a1a1a"/>
<circle cx="330.80" cy="284.00" r="1.35" fill="#1a1a1a"/>
<circle cx="328.40" cy="280.90" r="1.5" fill="none" stroke="#1a1a1a" stroke-width="0.8"/>
<circle cx="345.10" cy="274.70" r="1.35" fill="#c8105a"/>
<circle cx="344.50" cy="278.40" r="1.35" fill="#c8105a"/>
<circle cx="348.00" cy="278.00" r="1.35" fill="#c8105a"/>
<circle cx="346.00" cy="280.00" r="1.35" fill="#c8105a"/>
<circle cx="347.50" cy="279.50" r="1.35" fill="#c8105a"/>
<circle cx="345.50" cy="281.00" r="1.35" fill="#c8105a"/>
<circle cx="354.80" cy="280.60" r="1.5" fill="none" stroke="#c8105a" stroke-width="0.8"/>
<circle cx="357.00" cy="279.80" r="1.5" fill="none" stroke="#c8105a" stroke-width="0.8"/>
<circle cx="358.60" cy="281.00" r="1.5" fill="none" stroke="#c8105a" stroke-width="0.8"/>
<circle cx="355.60" cy="282.40" r="1.5" fill="none" stroke="#c8105a" stroke-width="0.8"/>
<circle cx="357.80" cy="282.60" r="1.5" fill="none" stroke="#c8105a" stroke-width="0.8"/>
<circle cx="372.00" cy="229.50" r="1.35" fill="#1a6582"/>
<circle cx="373.20" cy="228.30" r="1.35" fill="#1a6582"/>
<circle cx="374.40" cy="227.20" r="1.35" fill="#1a6582"/>
<circle cx="375.60" cy="226.00" r="1.35" fill="#1a6582"/>
<circle cx="373.60" cy="230.00" r="1.35" fill="#1a6582"/>
<circle cx="376.00" cy="227.60" r="1.35" fill="#1a6582"/>
<circle cx="384.30" cy="223.50" r="1.5" fill="none" stroke="#1a6582" stroke-width="0.8"/>
<circle cx="382.40" cy="227.60" r="1.5" fill="none" stroke="#1a6582" stroke-width="0.8"/>
<circle cx="386.80" cy="229.30" r="1.5" fill="none" stroke="#1a6582" stroke-width="0.8"/>
<circle cx="382.40" cy="232.00" r="1.5" fill="none" stroke="#1a6582" stroke-width="0.8"/>
<circle cx="386.50" cy="232.00" r="1.5" fill="none" stroke="#1a6582" stroke-width="0.8"/>
<circle cx="382.40" cy="235.10" r="1.5" fill="none" stroke="#1a6582" stroke-width="0.8"/>
<circle cx="386.50" cy="234.20" r="1.5" fill="none" stroke="#1a6582" stroke-width="0.8"/>
<path d="M315.80 196.10 L315.80 193.60 L329.20 193.60 L329.20 196.10" fill="none" stroke="#1a1a1a" stroke-width="0.85"/>
<text x="322.50" y="193.10" font-size="5.6" fill="#222" stroke="#222" stroke-width="0.35" text-anchor="middle">**</text>
<path d="M345.10 266.20 L345.10 263.70 L357.00 263.70 L357.00 266.20" fill="none" stroke="#1a1a1a" stroke-width="0.85"/>
<text x="351.05" y="263.20" font-size="5.0" fill="#222" stroke="#222" stroke-width="0.1" text-anchor="middle">*</text>
<text x="297.90" y="296.50" font-size="6.4" fill="#1c1c1c" stroke="#1c1c1c" stroke-width="0.18" textLength="6.9" lengthAdjust="spacingAndGlyphs" font-style="italic">F9</text>
<text x="316.95" y="296.90" font-size="6.4" fill="#1c1c1c" stroke="#1c1c1c" stroke-width="0.18" text-anchor="middle" textLength="10.0" lengthAdjust="spacingAndGlyphs">+/+</text>
<text x="328.55" y="296.90" font-size="6.4" fill="#1c1c1c" stroke="#1c1c1c" stroke-width="0.18" text-anchor="middle" textLength="8.9" lengthAdjust="spacingAndGlyphs">−/−</text>
<text x="345.45" y="296.90" font-size="6.4" fill="#1c1c1c" stroke="#1c1c1c" stroke-width="0.18" text-anchor="middle" textLength="10.0" lengthAdjust="spacingAndGlyphs">+/+</text>
<text x="357.05" y="296.90" font-size="6.4" fill="#1c1c1c" stroke="#1c1c1c" stroke-width="0.18" text-anchor="middle" textLength="8.9" lengthAdjust="spacingAndGlyphs">−/−</text>
<text x="373.55" y="296.90" font-size="6.4" fill="#1c1c1c" stroke="#1c1c1c" stroke-width="0.18" text-anchor="middle" textLength="10.0" lengthAdjust="spacingAndGlyphs">+/+</text>
<text x="385.35" y="296.90" font-size="6.4" fill="#1c1c1c" stroke="#1c1c1c" stroke-width="0.18" text-anchor="middle" textLength="8.9" lengthAdjust="spacingAndGlyphs">−/−</text>
<line x1="315.60" y1="300.90" x2="330.40" y2="300.90" stroke="#333" stroke-width="0.9"/>
<line x1="342.10" y1="300.90" x2="360.70" y2="300.90" stroke="#333" stroke-width="0.9"/>
<line x1="370.20" y1="300.90" x2="389.00" y2="300.90" stroke="#333" stroke-width="0.9"/>
<text x="315.70" y="309.30" font-size="6.6" fill="#1c1c1c" stroke="#1c1c1c" stroke-width="0.18" textLength="14.3" lengthAdjust="spacingAndGlyphs">Silica</text>
<text x="336.50" y="309.30" font-size="6.6" fill="#1c1c1c" stroke="#1c1c1c" stroke-width="0.18" textLength="28.4" lengthAdjust="spacingAndGlyphs">0.05pM TF</text>
<text x="370.20" y="309.30" font-size="6.6" fill="#1c1c1c" stroke="#1c1c1c" stroke-width="0.18" textLength="25.0" lengthAdjust="spacingAndGlyphs">0.5pM TF</text>
<text x="287.20" y="274.00" font-size="7.6" fill="#1c1c1c" stroke="#1c1c1c" stroke-width="0.15" textLength="71.5" lengthAdjust="spacingAndGlyphs" transform="rotate(-90 287.20 274.00)">Peak height (nM thrombin)</text>
<rect x="438.00" y="222.19" width="6.00" height="21.81" fill="#9b9b9b"/>
<rect x="438.00" y="249.80" width="6.00" height="34.80" fill="#9b9b9b"/>
<rect x="448.30" y="284.15" width="6.00" height="0.45" fill="#9b9b9b"/>
<rect x="466.50" y="273.31" width="6.00" height="11.29" fill="#f08aac"/>
<rect x="476.70" y="277.56" width="6.00" height="7.04" fill="#f08aac"/>
<rect x="494.80" y="233.39" width="6.00" height="10.61" fill="#7fb0c7"/>
<rect x="494.80" y="249.80" width="6.00" height="34.80" fill="#7fb0c7"/>
<rect x="505.00" y="236.60" width="6.00" height="7.40" fill="#7fb0c7"/>
<rect x="505.00" y="249.80" width="6.00" height="34.80" fill="#7fb0c7"/>
<line x1="433.70" y1="185.00" x2="433.70" y2="244.00" stroke="#1a1a1a" stroke-width="1.0"/>
<line x1="433.70" y1="249.80" x2="433.70" y2="285.00" stroke="#1a1a1a" stroke-width="1.0"/>
<line x1="430.70" y1="244.00" x2="436.90" y2="244.00" stroke="#1a1a1a" stroke-width="0.85"/>
<line x1="430.70" y1="249.80" x2="436.90" y2="249.80" stroke="#1a1a1a" stroke-width="0.85"/>
<line x1="433.30" y1="284.60" x2="514.00" y2="284.60" stroke="#1a1a1a" stroke-width="1.0"/>
<line x1="430.70" y1="284.50" x2="433.70" y2="284.50" stroke="#1a1a1a" stroke-width="0.8"/>
<text x="427.50" y="286.80" font-size="6.4" fill="#2a2a2a" stroke="#2a2a2a" stroke-width="0.06" text-anchor="end">0</text>
<line x1="430.70" y1="267.15" x2="433.70" y2="267.15" stroke="#1a1a1a" stroke-width="0.8"/>
<text x="427.50" y="269.45" font-size="6.4" fill="#2a2a2a" stroke="#2a2a2a" stroke-width="0.06" text-anchor="end">100</text>
<line x1="430.70" y1="249.80" x2="433.70" y2="249.80" stroke="#1a1a1a" stroke-width="0.8"/>
<text x="427.50" y="252.10" font-size="6.4" fill="#2a2a2a" stroke="#2a2a2a" stroke-width="0.06" text-anchor="end">200</text>
<line x1="430.70" y1="244.00" x2="433.70" y2="244.00" stroke="#1a1a1a" stroke-width="0.8"/>
<text x="427.50" y="246.30" font-size="6.4" fill="#2a2a2a" stroke="#2a2a2a" stroke-width="0.06" text-anchor="end">200</text>
<line x1="430.70" y1="230.90" x2="433.70" y2="230.90" stroke="#1a1a1a" stroke-width="0.8"/>
<text x="427.50" y="233.20" font-size="6.4" fill="#2a2a2a" stroke="#2a2a2a" stroke-width="0.06" text-anchor="end">400</text>
<line x1="430.70" y1="217.80" x2="433.70" y2="217.80" stroke="#1a1a1a" stroke-width="0.8"/>
<text x="427.50" y="220.10" font-size="6.4" fill="#2a2a2a" stroke="#2a2a2a" stroke-width="0.06" text-anchor="end">600</text>
<line x1="430.70" y1="204.70" x2="433.70" y2="204.70" stroke="#1a1a1a" stroke-width="0.8"/>
<text x="427.50" y="207.00" font-size="6.4" fill="#2a2a2a" stroke="#2a2a2a" stroke-width="0.06" text-anchor="end">800</text>
<line x1="430.70" y1="191.60" x2="433.70" y2="191.60" stroke="#1a1a1a" stroke-width="0.8"/>
<text x="427.50" y="193.90" font-size="6.4" fill="#2a2a2a" stroke="#2a2a2a" stroke-width="0.06" text-anchor="end">1000</text>
<line x1="441.00" y1="284.60" x2="441.00" y2="287.60" stroke="#1a1a1a" stroke-width="0.8"/>
<line x1="451.30" y1="284.60" x2="451.30" y2="287.60" stroke="#1a1a1a" stroke-width="0.8"/>
<line x1="469.50" y1="284.60" x2="469.50" y2="287.60" stroke="#1a1a1a" stroke-width="0.8"/>
<line x1="479.70" y1="284.60" x2="479.70" y2="287.60" stroke="#1a1a1a" stroke-width="0.8"/>
<line x1="497.80" y1="284.60" x2="497.80" y2="287.60" stroke="#1a1a1a" stroke-width="0.8"/>
<line x1="508.00" y1="284.60" x2="508.00" y2="287.60" stroke="#1a1a1a" stroke-width="0.8"/>
<circle cx="439.40" cy="211.80" r="1.35" fill="#1a1a1a"/>
<circle cx="441.50" cy="211.80" r="1.35" fill="#1a1a1a"/>
<circle cx="443.50" cy="212.30" r="1.35" fill="#1a1a1a"/>
<circle cx="439.50" cy="227.20" r="1.35" fill="#1a1a1a"/>
<circle cx="442.50" cy="227.80" r="1.35" fill="#1a1a1a"/>
<circle cx="441.00" cy="232.70" r="1.35" fill="#1a1a1a"/>
<circle cx="448.50" cy="284.00" r="1.35" fill="#1a1a1a"/>
<circle cx="449.62" cy="284.00" r="1.35" fill="#1a1a1a"/>
<circle cx="450.74" cy="284.00" r="1.35" fill="#1a1a1a"/>
<circle cx="451.86" cy="284.00" r="1.35" fill="#1a1a1a"/>
<circle cx="452.98" cy="284.00" r="1.35" fill="#1a1a1a"/>
<circle cx="454.10" cy="284.00" r="1.35" fill="#1a1a1a"/>
<circle cx="451.20" cy="281.20" r="1.5" fill="none" stroke="#1a1a1a" stroke-width="0.8"/>
<circle cx="468.00" cy="270.00" r="1.35" fill="#c8105a"/>
<circle cx="465.50" cy="273.40" r="1.35" fill="#c8105a"/>
<circle cx="470.50" cy="273.40" r="1.35" fill="#c8105a"/>
<circle cx="467.00" cy="276.00" r="1.35" fill="#c8105a"/>
<circle cx="469.50" cy="276.50" r="1.35" fill="#c8105a"/>
<circle cx="468.50" cy="278.00" r="1.35" fill="#c8105a"/>
<circle cx="477.50" cy="277.00" r="1.5" fill="none" stroke="#c8105a" stroke-width="0.8"/>
<circle cx="479.50" cy="276.50" r="1.5" fill="none" stroke="#c8105a" stroke-width="0.8"/>
<circle cx="481.50" cy="277.50" r="1.5" fill="none" stroke="#c8105a" stroke-width="0.8"/>
<circle cx="478.50" cy="279.00" r="1.5" fill="none" stroke="#c8105a" stroke-width="0.8"/>
<circle cx="480.50" cy="279.00" r="1.5" fill="none" stroke="#c8105a" stroke-width="0.8"/>
<circle cx="496.10" cy="228.30" r="1.35" fill="#1a6582"/>
<circle cx="499.30" cy="226.10" r="1.35" fill="#1a6582"/>
<circle cx="499.30" cy="228.70" r="1.35" fill="#1a6582"/>
<circle cx="497.20" cy="234.80" r="1.35" fill="#1a6582"/>
<circle cx="500.00" cy="235.70" r="1.35" fill="#1a6582"/>
<circle cx="497.20" cy="240.70" r="1.35" fill="#1a6582"/>
<circle cx="506.30" cy="235.20" r="1.5" fill="none" stroke="#1a6582" stroke-width="0.8"/>
<circle cx="508.50" cy="234.30" r="1.5" fill="none" stroke="#1a6582" stroke-width="0.8"/>
<circle cx="510.30" cy="235.40" r="1.5" fill="none" stroke="#1a6582" stroke-width="0.8"/>
<circle cx="508.40" cy="237.20" r="1.5" fill="none" stroke="#1a6582" stroke-width="0.8"/>
<circle cx="508.50" cy="251.50" r="1.5" fill="none" stroke="#1a6582" stroke-width="0.8"/>
<path d="M439.90 206.30 L439.90 203.80 L452.80 203.80 L452.80 206.30" fill="none" stroke="#1a1a1a" stroke-width="0.85"/>
<text x="446.35" y="203.30" font-size="5.6" fill="#222" stroke="#222" stroke-width="0.35" text-anchor="middle">**</text>
<path d="M468.00 261.50 L468.00 259.00 L480.60 259.00 L480.60 261.50" fill="none" stroke="#1a1a1a" stroke-width="0.85"/>
<text x="474.30" y="258.50" font-size="5.6" fill="#222" stroke="#222" stroke-width="0.35" text-anchor="middle">**</text>
<text x="420.80" y="296.40" font-size="6.4" fill="#1c1c1c" stroke="#1c1c1c" stroke-width="0.18" textLength="6.9" lengthAdjust="spacingAndGlyphs" font-style="italic">F9</text>
<text x="440.15" y="296.80" font-size="6.4" fill="#1c1c1c" stroke="#1c1c1c" stroke-width="0.18" text-anchor="middle" textLength="10.0" lengthAdjust="spacingAndGlyphs">+/+</text>
<text x="451.85" y="296.80" font-size="6.4" fill="#1c1c1c" stroke="#1c1c1c" stroke-width="0.18" text-anchor="middle" textLength="8.9" lengthAdjust="spacingAndGlyphs">−/−</text>
<text x="468.65" y="296.80" font-size="6.4" fill="#1c1c1c" stroke="#1c1c1c" stroke-width="0.18" text-anchor="middle" textLength="10.0" lengthAdjust="spacingAndGlyphs">+/+</text>
<text x="480.25" y="296.80" font-size="6.4" fill="#1c1c1c" stroke="#1c1c1c" stroke-width="0.18" text-anchor="middle" textLength="8.9" lengthAdjust="spacingAndGlyphs">−/−</text>
<text x="496.95" y="296.80" font-size="6.4" fill="#1c1c1c" stroke="#1c1c1c" stroke-width="0.18" text-anchor="middle" textLength="10.0" lengthAdjust="spacingAndGlyphs">+/+</text>
<text x="508.55" y="296.80" font-size="6.4" fill="#1c1c1c" stroke="#1c1c1c" stroke-width="0.18" text-anchor="middle" textLength="8.9" lengthAdjust="spacingAndGlyphs">−/−</text>
<line x1="438.80" y1="300.80" x2="453.70" y2="300.80" stroke="#333" stroke-width="0.9"/>
<line x1="465.30" y1="300.80" x2="483.90" y2="300.80" stroke="#333" stroke-width="0.9"/>
<line x1="493.60" y1="300.80" x2="512.20" y2="300.80" stroke="#333" stroke-width="0.9"/>
<text x="439.50" y="309.20" font-size="6.6" fill="#1c1c1c" stroke="#1c1c1c" stroke-width="0.18" textLength="14.7" lengthAdjust="spacingAndGlyphs">Silica</text>
<text x="459.60" y="309.20" font-size="6.6" fill="#1c1c1c" stroke="#1c1c1c" stroke-width="0.18" textLength="28.0" lengthAdjust="spacingAndGlyphs">0.05pM TF</text>
<text x="493.60" y="309.20" font-size="6.6" fill="#1c1c1c" stroke="#1c1c1c" stroke-width="0.18" textLength="25.8" lengthAdjust="spacingAndGlyphs">0.5pM TF</text>
<text x="407.50" y="268.20" font-size="7.6" fill="#1c1c1c" stroke="#1c1c1c" stroke-width="0.15" textLength="57.4" lengthAdjust="spacingAndGlyphs" transform="rotate(-90 407.50 268.20)">ETP (nM*minute)</text></svg>
</body></html>
